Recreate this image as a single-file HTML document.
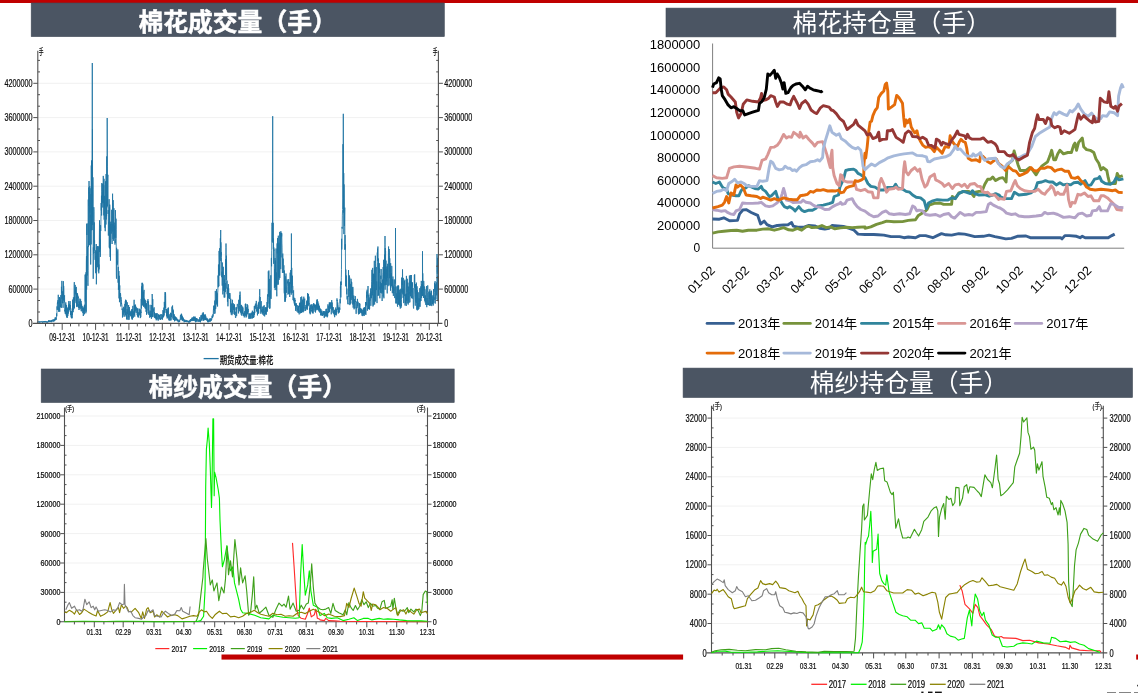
<!DOCTYPE html>
<html lang="zh-CN"><head><meta charset="utf-8"><title>棉花 棉纱 成交量 持仓量</title>
<style>html,body{margin:0;padding:0;background:#fff;overflow:hidden}svg{display:block}</style></head>
<body><svg width="1138" height="693" viewBox="0 0 1138 693">
<rect x="0" y="0" width="1138" height="693" fill="#fff"/>
<rect x="0" y="0" width="1138" height="3" fill="#c00000"/>
<rect x="221.5" y="654.5" width="461.6" height="5.1" fill="#c00000"/>
<rect x="1136.2" y="654.5" width="1.8" height="5.1" fill="#c00000"/>
<line x1="37.8" y1="289.1" x2="438.4" y2="289.1" stroke="#f1f1f1" stroke-width="1"/>
<line x1="37.8" y1="254.8" x2="438.4" y2="254.8" stroke="#f1f1f1" stroke-width="1"/>
<line x1="37.8" y1="220.5" x2="438.4" y2="220.5" stroke="#f1f1f1" stroke-width="1"/>
<line x1="37.8" y1="186.2" x2="438.4" y2="186.2" stroke="#f1f1f1" stroke-width="1"/>
<line x1="37.8" y1="151.9" x2="438.4" y2="151.9" stroke="#f1f1f1" stroke-width="1"/>
<line x1="37.8" y1="117.6" x2="438.4" y2="117.6" stroke="#f1f1f1" stroke-width="1"/>
<line x1="37.8" y1="83.3" x2="438.4" y2="83.3" stroke="#f1f1f1" stroke-width="1"/>
<polyline points="37.42,322.6 37.57,321.7 37.72,321.9 37.87,322.5 38.02,322.2 38.17,321.9 38.32,322.1 38.47,322 38.62,321.6 38.77,322.2 38.92,321.6 39.07,321.8 39.22,321.7 39.37,322.5 39.52,321.7 39.67,322 39.82,322.6 39.97,321.5 40.12,322 40.27,321.9 40.42,322.2 40.57,322.1 40.72,321.7 40.87,321.5 41.02,322.2 41.17,322.2 41.32,321.4 41.47,321.7 41.62,321.8 41.77,322 41.92,322 42.07,321.5 42.22,321.4 42.37,322.6 42.52,321.7 42.67,322.2 42.82,322.5 42.97,322.5 43.12,322.5 43.27,321.4 43.42,321.5 43.57,321.3 43.72,322.2 43.87,321.4 44.02,322 44.17,322.3 44.32,322.3 44.47,321.1 44.62,321.7 44.77,321.6 44.92,321.5 45.07,322.2 45.22,321.2 45.37,322.1 45.52,321.3 45.67,321.3 45.82,321.2 45.97,322.3 46.12,322.5 46.27,321.3 46.42,321.6 46.57,321.4 46.72,322 46.87,322.6 47.02,322.1 47.17,321.8 47.32,322.6 47.47,322.6 47.62,322.2 47.77,321.4 47.92,322.2 48.07,322 48.22,321.8 48.37,322.2 48.52,320.6 48.67,321.9 48.82,320.2 48.97,321.9 49.12,321.9 49.27,322 49.42,321.8 49.57,320.6 49.72,321.8 49.87,321.7 50.02,320.5 50.17,320.7 50.32,321.7 50.47,320.9 50.62,322.1 50.77,321.8 50.92,320.5 51.07,320.5 51.22,320.9 51.37,321.4 51.52,322.2 51.67,320 51.82,320.1 51.97,321.5 52.12,321.6 52.27,320.2 52.42,320 52.57,319.7 52.72,319.6 52.87,321.1 53.02,320.1 53.17,321.5 53.32,320.2 53.47,319.4 53.62,320.3 53.77,321.1 53.92,321.6 54.07,320.4 54.22,319.8 54.37,320.2 54.52,320.7 54.67,319.2 54.82,320.9 54.97,318.6 55.12,319.6 55.27,317.2 55.42,319.8 55.57,318.5 55.72,319.4 55.87,317.9 56.02,319.9 56.17,319.8 56.32,319.5 56.47,316.2 56.62,313.4 56.77,316.3 56.92,313.1 57.07,306.4 57.22,309.9 57.37,302.9 57.52,303.4 57.67,301.8 57.82,303.5 57.97,300.1 58.12,309.7 58.27,294.8 58.42,307 58.57,308 58.72,311.7 58.87,308.5 59.02,311.6 59.17,310.8 59.32,302.1 59.47,297 59.62,309.2 59.77,311.7 59.92,297.7 60.07,303.1 60.22,299.8 60.37,300 60.52,301.5 60.67,307.2 60.82,295.1 60.97,306.7 61.12,304.2 61.27,308 61.42,286.8 61.57,288.8 61.72,293.3 61.87,280.9 62.02,298.9 62.17,294.3 62.32,303.3 62.47,291.4 62.62,291.4 62.77,303 62.92,301.6 63.07,307.8 63.22,287.9 63.37,281.2 63.52,300.5 63.67,285.9 63.82,289.9 63.97,298.6 64.12,300.7 64.27,302.3 64.42,297.6 64.57,295.3 64.72,311.4 64.87,309.8 65.02,309.9 65.17,313.7 65.32,313.8 65.47,304.3 65.62,312.7 65.77,302.4 65.92,313.8 66.07,307.6 66.22,315.5 66.37,305.8 66.52,304.9 66.67,317.4 66.82,306.9 66.97,308.5 67.12,309.9 67.27,317.9 67.42,308.4 67.57,312.3 67.72,316.1 67.87,316 68.02,314 68.17,307.8 68.32,313.6 68.47,305 68.62,309 68.77,301.1 68.92,311.5 69.07,307.6 69.22,303.8 69.37,310 69.52,306.3 69.67,307.5 69.82,307.6 69.97,307.6 70.12,301.1 70.27,309.2 70.42,305.1 70.57,315.1 70.72,310.9 70.87,311.8 71.02,311.8 71.17,317.4 71.32,311.1 71.47,317.9 71.62,315.6 71.77,318.3 71.92,314.7 72.07,318.2 72.22,308.5 72.37,315 72.52,303 72.67,299.6 72.82,309.7 72.97,304.9 73.12,312.2 73.27,310.6 73.42,297.3 73.57,309.9 73.72,305.1 73.87,304.9 74.02,307.5 74.17,286 74.32,282.1 74.47,308.4 74.62,296.8 74.77,301.2 74.92,292.8 75.07,289.8 75.22,284.9 75.37,293.8 75.52,287.7 75.67,295.2 75.82,295.2 75.97,302.3 76.12,302.9 76.27,286.9 76.42,303.8 76.57,292.8 76.72,306.7 76.87,302.8 77.02,307.1 77.17,293.2 77.32,296.5 77.47,293.5 77.62,293.8 77.77,306.2 77.92,295.7 78.07,298.3 78.22,296.9 78.37,298.8 78.52,303.8 78.67,307.8 78.82,304.2 78.97,310 79.12,308.4 79.27,301.3 79.42,307.6 79.57,308 79.72,301.4 79.87,298.6 80.02,302.9 80.17,309.2 80.32,303.3 80.47,301.6 80.62,299.4 80.77,307.7 80.92,307.5 81.07,301 81.22,311.2 81.37,303.7 81.52,307.9 81.67,304.6 81.82,307.8 81.97,308.2 82.12,311.4 82.27,306.2 82.42,308.5 82.57,309.1 82.72,308 82.87,313.1 83.02,311.8 83.17,308.5 83.32,316 83.47,312.1 83.62,310.8 83.77,307.4 83.92,312.6 84.07,311.9 84.22,305.7 84.37,312.6 84.52,314.3 84.67,304.7 84.82,310.6 84.97,309.9 85.12,274.6 85.27,301.5 85.42,289.2 85.57,274.6 85.72,300.5 85.87,313.3 86.02,272.3 86.17,311.7 86.32,263.5 86.47,256.1 86.62,289.6 86.77,224 86.92,235 87.07,223.3 87.22,275.5 87.37,262.8 87.52,256.9 87.67,246.5 87.82,282.8 87.97,285.8 88.12,270.7 88.27,199.5 88.42,246.9 88.57,240.2 88.72,187.5 88.87,205.8 89.02,181 89.17,193.4 89.32,192.1 89.47,205.2 89.62,245.2 89.77,186.2 89.92,212.8 90.07,194.1 90.22,211.9 90.37,217.3 90.52,214.8 90.67,264.5 90.82,234.4 90.97,188.3 91.12,244.4 91.27,165.5 91.42,230.3 91.57,160.4 91.72,168.6 91.87,161.6 92.02,210.6 92.17,230.1 92.3,63 92.32,217.1 92.47,129.4 92.62,223.7 92.77,224.9 92.92,177.3 93.07,189.3 93.22,278.8 93.37,247.4 93.52,253.6 93.67,231.3 93.82,207.2 93.97,211.4 94.12,243.5 94.27,222.4 94.42,250.4 94.57,240.2 94.72,252.9 94.87,252.5 95.02,258.3 95.17,259.9 95.32,250.3 95.47,269.7 95.62,273.2 95.77,256.2 95.92,260.4 96.07,269.7 96.22,244 96.37,284.3 96.52,275.6 96.67,264.8 96.82,246.8 96.97,264.8 97.12,251.6 97.27,255.4 97.42,267.2 97.57,246.1 97.72,249.8 97.87,261.7 98.02,257.9 98.17,262.5 98.32,271.4 98.47,269.6 98.62,246.3 98.77,273.3 98.92,264.5 99.07,269.4 99.22,266 99.37,236.3 99.52,220.3 99.67,251.9 99.82,229.6 99.97,249.1 100.12,239.5 100.27,256.9 100.42,255.9 100.57,225.1 100.72,231 100.87,225.6 101.02,213.7 101.17,203 101.32,210.4 101.47,195.7 101.62,215.5 101.77,183.1 101.92,191.2 102.07,191.6 102.22,203.3 102.37,191.9 102.52,202.3 102.67,183.7 102.82,207.5 102.97,195.4 103.12,197.8 103.27,175.9 103.42,188.4 103.57,202.8 103.72,185.2 103.87,215.4 104.02,178.8 104.17,219.7 104.32,202.6 104.47,207.4 104.62,195.9 104.77,218.1 104.92,227.7 105.07,219.9 105.22,231.2 105.37,186 105.52,181.3 105.67,214.6 105.82,217.9 105.97,224.5 106.12,174 106.27,219.5 106.42,202 106.57,216.2 106.72,156.4 106.87,184.2 107.02,207.3 107.17,201 107.2,118 107.32,166.6 107.47,206 107.62,202.9 107.77,177.7 107.92,174.8 108.07,213.9 108.22,210 108.37,235.6 108.52,222.4 108.67,223.6 108.82,220 108.97,210.9 109.12,199.2 109.27,247.6 109.42,207 109.57,248.4 109.72,204.6 109.87,208.9 110.02,250 110.17,257 110.32,224.2 110.47,260.7 110.62,226.4 110.77,221.7 110.92,230.7 111.07,223.9 111.22,226.9 111.37,233.6 111.52,225.2 111.67,209.8 111.82,240.7 111.97,242.5 112.12,244 112.27,239.7 112.42,223.3 112.57,193.7 112.72,231.5 112.87,223.9 113.02,239.1 113.17,200.1 113.32,202.3 113.47,226.3 113.62,240.8 113.77,234 113.92,208.2 114.07,230.9 114.22,222.6 114.37,236.8 114.52,225.7 114.67,238.6 114.82,234.6 114.97,244.6 115.12,239.4 115.27,243 115.42,210.1 115.57,216.7 115.72,237.9 115.87,228.9 116.02,218.7 116.17,229.6 116.32,273.8 116.47,278.7 116.62,247.8 116.77,263 116.92,251.4 117.07,265.2 117.22,261.1 117.37,262.1 117.52,264.1 117.67,261.6 117.82,249.4 117.97,257.9 118.12,282.7 118.27,266.9 118.42,289.8 118.57,285.1 118.72,285.5 118.87,271 119.02,298.4 119.17,276.2 119.32,275.8 119.47,302.2 119.62,290.4 119.77,285.4 119.92,298.8 120.07,295.1 120.22,296.2 120.37,296.3 120.52,293.1 120.67,295.2 120.82,306.5 120.97,297.2 121.12,300.6 121.27,300.2 121.42,304 121.57,302.9 121.72,304.6 121.87,304.5 122.02,306.2 122.17,310 122.32,308.5 122.47,317.5 122.62,312.1 122.77,311 122.92,309.8 123.07,311.9 123.22,314.7 123.37,310.9 123.52,311.3 123.67,306.8 123.82,312.8 123.97,316.7 124.12,307.9 124.27,311.4 124.42,312.5 124.57,312.1 124.72,308 124.87,303.9 125.02,316.5 125.17,309.3 125.32,301.2 125.47,315.1 125.62,299.7 125.77,304.8 125.92,300 126.07,306.2 126.22,300.9 126.37,308.2 126.52,310 126.67,319.2 126.82,311.7 126.97,319.6 127.12,310.7 127.27,302.3 127.42,310.8 127.57,314.1 127.72,309.3 127.87,315.8 128.02,319.7 128.17,319.7 128.32,317.4 128.47,316.9 128.62,305 128.77,317.4 128.92,314.3 129.07,319.8 129.22,317.9 129.37,307 129.52,311.8 129.67,315 129.82,312.5 129.97,310.7 130.12,312.2 130.27,311.9 130.42,312.6 130.57,315.1 130.72,316 130.87,312 131.02,316.5 131.17,311.1 131.32,314.5 131.47,310.5 131.62,316.2 131.77,318.5 131.92,309 132.07,319.5 132.22,316.4 132.37,309.2 132.52,319.3 132.67,312.1 132.82,305.9 132.97,311.1 133.12,311.5 133.27,311.8 133.42,317.6 133.57,315 133.72,311.3 133.87,314.8 134.02,301.2 134.17,299.8 134.32,314.9 134.47,304.9 134.62,316.2 134.77,316.7 134.92,306.1 135.07,311.7 135.22,306.5 135.37,309.3 135.52,304.6 135.67,310.6 135.82,306.6 135.97,311.8 136.12,313 136.27,312.3 136.42,310.8 136.57,307.5 136.72,308.4 136.87,311.1 137.02,313.3 137.17,315.1 137.32,314.2 137.47,308.5 137.62,316.3 137.77,308.5 137.92,314.9 138.07,317.3 138.22,314.5 138.37,317.4 138.52,312.3 138.67,313 138.82,315 138.97,315.6 139.12,308.7 139.27,309 139.42,311.1 139.57,314.7 139.72,311.5 139.87,309.7 140.02,308.8 140.17,314.5 140.32,318.1 140.47,316.5 140.62,309.8 140.77,317.2 140.92,311.7 141.07,312.9 141.22,298.9 141.37,308.5 141.52,286.4 141.67,293.2 141.82,301.4 141.97,282.8 142.12,297.4 142.27,296.6 142.42,305.3 142.57,282.9 142.72,295.4 142.87,284.3 143.02,303 143.17,305.6 143.32,292.7 143.47,291.7 143.62,306.7 143.77,295.1 143.92,292.9 144.07,289.9 144.22,306.6 144.37,298.6 144.52,302.8 144.67,301.5 144.82,299.5 144.97,308.3 145.12,300 145.27,300.1 145.42,307.8 145.57,301.5 145.72,308.8 145.87,303.8 146.02,311.8 146.17,309.6 146.32,304.4 146.47,304.3 146.62,314.8 146.77,303 146.92,313.6 147.07,308.8 147.22,300.8 147.37,302.2 147.52,302.5 147.67,301.8 147.82,302.7 147.97,299.1 148.12,310.2 148.27,310.6 148.42,301.4 148.57,313.3 148.72,312 148.87,314.9 149.02,310.6 149.17,311.6 149.32,312.9 149.47,313.8 149.62,317.5 149.77,317.8 149.92,315.1 150.07,304.8 150.22,309.6 150.37,312.7 150.52,317 150.67,313.4 150.82,310.8 150.97,315.2 151.12,316.5 151.27,314.1 151.42,318.8 151.57,305 151.72,310.7 151.87,315.5 152.02,314.9 152.17,294 152.32,296.9 152.47,310.3 152.62,317 152.77,299.1 152.92,317.2 153.07,314.6 153.22,311 153.37,308.6 153.52,310.9 153.67,311.3 153.82,311.7 153.97,310.9 154.12,307.3 154.27,315.7 154.42,312 154.57,317.4 154.72,313 154.87,317.6 155.02,316.8 155.17,318.2 155.32,315.9 155.47,318.1 155.62,313.4 155.77,317.3 155.92,318.7 156.07,316.5 156.22,320.3 156.37,318.7 156.52,314.2 156.67,319.3 156.82,313.1 156.97,316.2 157.12,313.4 157.27,316.7 157.42,317.3 157.57,316.5 157.72,319.2 157.87,319.5 158.02,317.6 158.17,320.7 158.32,318.8 158.47,317.3 158.62,314.4 158.77,317.3 158.92,314.6 159.07,317.1 159.22,319.1 159.37,315.1 159.52,317.6 159.67,315.5 159.82,315.8 159.97,315.4 160.12,319.6 160.27,317.9 160.42,319.9 160.57,317.7 160.72,319.3 160.87,314.3 161.02,316.4 161.17,314.2 161.32,315.5 161.47,316.6 161.62,317.6 161.77,319 161.92,317.1 162.07,316.6 162.22,319.6 162.37,314.7 162.52,319.4 162.67,316.1 162.82,315.1 162.97,310.1 163.12,317.1 163.27,316.7 163.42,317.3 163.57,311.1 163.72,316.5 163.87,307.6 164.02,314 164.17,315.4 164.32,301.9 164.47,307.4 164.62,304 164.77,312.6 164.92,295.5 165.07,292.1 165.22,304.2 165.37,308.1 165.52,292.5 165.67,295.8 165.82,310.1 165.97,310.3 166.12,309.2 166.27,313.1 166.42,310.7 166.57,316.3 166.72,309 166.87,316.1 167.02,315.9 167.17,318.5 167.32,315.2 167.47,310.5 167.62,315.9 167.77,317.6 167.92,308.2 168.07,317.5 168.22,310.3 168.37,307.5 168.52,308.8 168.67,319.1 168.82,320.3 168.97,319.1 169.12,315.4 169.27,319.4 169.42,319.7 169.57,320.5 169.72,316.6 169.87,314.2 170.02,315.4 170.17,318.7 170.32,320.4 170.47,312.8 170.62,314.5 170.77,315.4 170.92,316 171.07,320.4 171.22,318.9 171.37,313.3 171.52,317 171.67,311.9 171.82,309.8 171.97,306.6 172.12,310 172.27,312.5 172.42,307.7 172.57,305.5 172.72,309.7 172.87,318.5 173.02,311.8 173.17,309.6 173.32,320 173.47,310.8 173.62,316.5 173.77,315.3 173.92,317.1 174.07,319.6 174.22,314.3 174.37,318.2 174.52,321.3 174.67,316.8 174.82,320.1 174.97,319.3 175.12,316.5 175.27,318.5 175.42,316.8 175.57,320.5 175.72,319.4 175.87,318.5 176.02,318.1 176.17,317.4 176.32,320.1 176.47,318.5 176.62,317.8 176.77,319.5 176.92,320.6 177.07,320.3 177.22,318.8 177.37,320.9 177.52,321.1 177.67,319.8 177.82,321.3 177.97,320.6 178.12,319.7 178.27,321.7 178.42,322.2 178.57,321.9 178.72,321.3 178.87,322.2 179.02,320.8 179.17,319.8 179.32,321.8 179.47,320.7 179.62,321.7 179.77,321 179.92,319.6 180.07,319.8 180.22,319.1 180.37,315.7 180.52,315.9 180.67,315.1 180.82,319.9 180.97,317.7 181.12,314.5 181.27,316.1 181.42,313.7 181.57,318.9 181.72,314.6 181.87,315.3 182.02,320.1 182.17,316.1 182.32,320.6 182.47,316.8 182.62,320.2 182.77,317.9 182.92,320.8 183.07,321.1 183.22,317.6 183.37,320.1 183.52,319.9 183.67,319 183.82,320.9 183.97,321.6 184.12,322.3 184.27,322.1 184.42,320.1 184.57,321.6 184.72,319.5 184.87,320.6 185.02,321.8 185.17,321.2 185.32,321.6 185.47,321.4 185.62,320.2 185.77,321.8 185.92,321 186.07,321.3 186.22,322 186.37,321.2 186.52,320.1 186.67,320 186.82,321 186.97,322.2 187.12,321 187.27,321 187.42,321.1 187.57,321.5 187.72,320.5 187.87,320.7 188.02,322.1 188.17,321.7 188.32,321.7 188.47,321.5 188.62,322.4 188.77,320.9 188.92,322.4 189.07,322.2 189.22,321.7 189.37,321.8 189.52,322.3 189.67,322.5 189.82,320.2 189.97,322 190.12,319.7 190.27,319.8 190.42,321.4 190.57,319.5 190.72,319 190.87,321 191.02,319.6 191.17,320.9 191.32,321.1 191.47,318.6 191.62,320.5 191.77,318.6 191.92,317.8 192.07,317.8 192.22,317.5 192.37,320.7 192.52,319.9 192.67,318.4 192.82,320.8 192.97,318 193.12,317.4 193.27,320.9 193.42,317.3 193.57,316.6 193.72,320 193.87,318.9 194.02,318.1 194.17,321 194.32,316.8 194.47,318.2 194.62,317.4 194.77,320.5 194.92,318.2 195.07,316.6 195.22,321.5 195.37,321.2 195.52,317.8 195.67,322.3 195.82,318.7 195.97,320.8 196.12,321.8 196.27,320.7 196.42,318.1 196.57,321.2 196.72,318.6 196.87,320.8 197.02,320.1 197.17,318.6 197.32,318.9 197.47,319.4 197.62,320.4 197.77,321.7 197.92,321.8 198.07,321.3 198.22,319.4 198.37,320.6 198.52,320.5 198.67,320.8 198.82,321.9 198.97,319.7 199.12,320.3 199.27,319.8 199.42,320.9 199.57,321.5 199.72,317.2 199.87,321.3 200.02,320.2 200.17,321.3 200.32,320.6 200.47,322.3 200.62,319.8 200.77,318.9 200.92,315.3 201.07,320.6 201.22,318.8 201.37,320.2 201.52,315.2 201.67,317.6 201.82,318.9 201.97,318 202.12,320.6 202.27,313.7 202.42,315 202.57,318.5 202.72,318.6 202.87,318.5 203.02,312.6 203.17,318.6 203.32,312.5 203.47,320.3 203.62,314.2 203.77,320.8 203.92,317.7 204.07,316.7 204.22,319.8 204.37,315 204.52,317.5 204.67,314.7 204.82,319.9 204.97,317.9 205.12,316.1 205.27,314.4 205.42,316.6 205.57,320 205.72,315.9 205.87,320 206.02,319.8 206.17,320.2 206.32,318.6 206.47,317.9 206.62,317.7 206.77,319.6 206.92,320.3 207.07,318.6 207.22,320.9 207.37,318.6 207.52,321.4 207.67,319.3 207.82,322.3 207.97,320.7 208.12,321.6 208.27,321.9 208.42,319.9 208.57,322.2 208.72,320.9 208.87,319.8 209.02,321.8 209.17,320.2 209.32,318.7 209.47,321.4 209.62,320.7 209.77,321.1 209.92,320.7 210.07,319.3 210.22,318.3 210.37,320.7 210.52,321.5 210.67,320.5 210.82,318.7 210.97,321 211.12,320.8 211.27,320.7 211.42,318.5 211.57,319.8 211.72,319.6 211.87,319.5 212.02,315.8 212.17,316 212.32,318 212.47,316.4 212.62,317.7 212.77,314.6 212.92,314.3 213.07,316.5 213.22,315.2 213.37,310.2 213.52,308.9 213.67,309.7 213.82,305.6 213.97,313.6 214.12,314 214.27,306 214.42,310.7 214.57,304.6 214.72,300.6 214.87,301.1 215.02,313.5 215.17,309.2 215.32,290.9 215.47,305.9 215.62,309.1 215.77,308.3 215.92,306.8 216.07,306.6 216.22,299 216.37,301.3 216.52,289.2 216.67,303.6 216.82,291.4 216.97,304.7 217.12,293.3 217.27,302.6 217.42,300.3 217.57,306.5 217.72,292.6 217.87,291.3 218.02,275.5 218.17,278.8 218.32,287.2 218.47,264.5 218.62,280.1 218.77,284.7 218.92,286.2 219.07,250.9 219.22,259.3 219.37,271.7 219.52,275.2 219.67,248.2 219.82,275.6 219.97,264.4 220.12,254.1 220.27,238.3 220.42,238.2 220.57,247.7 220.7,230 220.72,260.9 220.87,242.3 221.02,245.5 221.17,255.4 221.32,252.2 221.47,257.4 221.62,276 221.77,277.2 221.92,271.7 222.07,272.1 222.22,285.7 222.37,262.5 222.52,280.2 222.67,271.9 222.82,294.4 222.97,285.7 223.12,272.2 223.27,266.8 223.42,269 223.57,290.8 223.72,287.2 223.87,285.6 224.02,283.1 224.17,297.5 224.32,275 224.47,290.9 224.62,279.5 224.77,297.5 224.92,288.6 225.07,289.9 225.22,283 225.37,292.1 225.52,262.2 225.67,259.2 225.82,274.8 225.97,247.6 226,243.5 226.12,258.9 226.27,280 226.42,255.7 226.57,262.8 226.72,281.5 226.87,288.7 227.02,280.6 227.17,294.2 227.32,289.5 227.47,301.7 227.62,287.7 227.77,290.1 227.92,306.3 228.07,299.6 228.22,297.5 228.37,284.2 228.52,298.2 228.67,288.4 228.82,296.6 228.97,297.2 229.12,296.3 229.27,294.3 229.42,293.1 229.57,299 229.72,295.5 229.87,293 230.02,293.7 230.17,294.4 230.32,299.8 230.47,312.3 230.62,307.9 230.77,298.8 230.92,301.8 231.07,311 231.22,314.6 231.37,312.3 231.52,311.9 231.67,303.5 231.82,309.4 231.97,315.2 232.12,304.1 232.27,304.6 232.42,299.8 232.57,312.3 232.72,310.9 232.87,312.4 233.02,313.8 233.17,303.2 233.32,307.4 233.47,306.3 233.62,310.1 233.77,310.3 233.92,304.2 234.07,309.2 234.22,309.6 234.37,314.4 234.52,304.5 234.67,314.8 234.82,314.6 234.97,311.5 235.12,313.3 235.27,312.3 235.42,317.4 235.57,317.9 235.72,316.9 235.87,317.2 236.02,307.4 236.17,310.2 236.32,307.3 236.47,308.2 236.62,316.1 236.77,312.9 236.92,308.9 237.07,308.5 237.22,304.1 237.37,303.9 237.52,304.3 237.67,305 237.82,306.6 237.97,307.9 238.12,308.8 238.27,309 238.42,313.4 238.57,313.3 238.72,299.8 238.87,307 239.02,309.2 239.17,305.9 239.32,311.3 239.47,296.5 239.62,295.1 239.77,305.2 239.92,292.9 240.07,291.6 240.22,294.1 240.37,296.8 240.52,312.6 240.67,308.4 240.82,305.2 240.97,305.5 241.12,314.3 241.27,314.7 241.42,308.8 241.57,304.9 241.72,315.6 241.87,315.7 242.02,313.4 242.17,309.7 242.32,313.4 242.47,311.5 242.62,306.5 242.77,313.5 242.92,307.6 243.07,311.8 243.22,315.5 243.37,315.7 243.52,313.5 243.67,315.8 243.82,315.7 243.97,315.4 244.12,312.9 244.27,317.4 244.42,312.7 244.57,311.3 244.72,314.6 244.87,314.7 245.02,315.4 245.17,308.2 245.32,304 245.47,311.8 245.62,303.6 245.77,315.7 245.92,308.1 246.07,317.5 246.22,307.1 246.37,312.7 246.52,309.6 246.67,316.5 246.82,309.2 246.97,314.2 247.12,304 247.27,313.7 247.42,314.2 247.57,313.6 247.72,305.2 247.87,308 248.02,312.1 248.17,308.9 248.32,312.9 248.47,314.3 248.62,314.1 248.77,315 248.92,318.7 249.07,315.4 249.22,318.8 249.37,313.3 249.52,314.7 249.67,314.2 249.82,316.8 249.97,314.2 250.12,317.6 250.27,315.9 250.42,318.7 250.57,313.8 250.72,313.4 250.87,318.2 251.02,317.9 251.17,312.8 251.32,314.4 251.47,313.8 251.62,314.6 251.77,313.3 251.92,318.7 252.07,312.4 252.22,314 252.37,310.7 252.52,318.2 252.67,311.6 252.82,313.4 252.97,315.9 253.12,315.8 253.27,313.4 253.42,318 253.57,312 253.72,311.9 253.87,316.9 254.02,317.2 254.17,315.6 254.32,306.1 254.47,314.8 254.62,310.3 254.77,313.1 254.92,306 255.07,305.6 255.22,307.6 255.37,303.8 255.52,303.6 255.67,303.8 255.82,309.2 255.97,305.6 256.12,306 256.27,300.9 256.42,303 256.57,309.6 256.72,311.6 256.87,309.3 257.02,311 257.17,306.9 257.32,312.8 257.47,315.4 257.62,309.8 257.77,311.7 257.92,306.1 258.07,304.6 258.22,313.6 258.37,302.8 258.52,306.3 258.67,313.4 258.82,301.8 258.97,309 259.12,307.8 259.27,304 259.42,297.7 259.57,295.4 259.72,289.2 259.87,295.6 260.02,308.4 260.17,297 260.32,308.1 260.47,306.6 260.62,312.8 260.77,312.7 260.92,313.8 261.07,309.1 261.22,301.2 261.37,309.8 261.52,311.3 261.67,309.7 261.82,311.9 261.97,311.2 262.12,312.9 262.27,306.8 262.42,307.7 262.57,308.2 262.72,314.5 262.87,311.3 263.02,309.1 263.17,313.2 263.32,306.2 263.47,313.1 263.62,313.4 263.77,315.6 263.92,310.1 264.07,305.6 264.22,305.2 264.37,308 264.52,312.6 264.67,316.4 264.82,311.3 264.97,311.8 265.12,310.2 265.27,307.6 265.42,314.2 265.57,307.6 265.72,314.3 265.87,309.5 266.02,307.2 266.17,313.8 266.32,314.7 266.47,309.7 266.62,307.7 266.77,311.3 266.92,311.7 267.07,302 267.22,311.5 267.37,299.3 267.52,294.4 267.67,296.6 267.82,297.4 267.97,307.6 268.12,288.8 268.27,271.4 268.42,274.1 268.57,293.3 268.72,296.7 268.87,270.5 269.02,293.2 269.17,303.7 269.32,278.9 269.47,306.5 269.62,308.7 269.77,298.9 269.92,308.4 270.07,305.6 270.22,290.4 270.37,296.6 270.52,298.3 270.67,297.3 270.82,275.3 270.97,299 271.12,297.2 271.27,259.5 271.42,257.9 271.57,266.3 271.72,250.2 271.87,226.7 272.02,222.8 272.17,227.3 272.32,241.7 272.47,233 272.62,172.6 272.7,116.2 272.77,203.8 272.92,240.4 273.07,243 273.22,222.8 273.37,249.1 273.52,238.6 273.67,263.8 273.82,247.5 273.97,250.5 274.12,249.6 274.27,258.4 274.42,287.9 274.57,269.3 274.72,282.6 274.87,285.8 275.02,258 275.17,290.1 275.32,279.4 275.47,260.5 275.62,287 275.77,284.5 275.92,270.2 276.07,248.5 276.22,271.1 276.37,289.8 276.52,272.5 276.67,291.6 276.82,296.3 276.97,264.3 277.12,243.4 277.27,253.4 277.42,244.3 277.57,238.1 277.72,253.8 277.87,284.8 278.02,243.8 278.17,284.4 278.32,235.7 278.47,257.9 278.62,265.1 278.77,277 278.92,242.7 279.07,279.8 279.22,278.6 279.37,264.7 279.52,256.5 279.67,231.9 279.82,278 279.97,261.5 280.12,244.9 280.27,246 280.42,252.5 280.57,232.9 280.72,269.1 280.87,231.2 281.02,257.4 281.17,240.1 281.32,239.5 281.47,232.9 281.62,236.5 281.77,233.3 281.92,243.1 282.07,247.1 282.22,263.2 282.37,273 282.52,272.3 282.67,254.6 282.82,253.6 282.97,265.5 283.12,259.8 283.27,258.7 283.42,270.9 283.57,272.8 283.72,270.3 283.87,265.3 284.02,281 284.17,291.3 284.32,293.4 284.47,270.5 284.62,296.8 284.77,296.9 284.92,301.8 285.07,287.5 285.22,301.6 285.37,276.3 285.52,299.9 285.67,293.6 285.82,297.8 285.97,273.5 286.12,280 286.27,284 286.42,289.4 286.57,292.8 286.72,287.2 286.87,285.6 287.02,281.7 287.17,279.4 287.32,283.3 287.47,282.7 287.62,281.4 287.77,286.5 287.92,294.6 288.07,293.6 288.22,290.7 288.37,286.1 288.52,283.7 288.67,279.1 288.82,294 288.97,283.7 289.12,282.5 289.27,293.6 289.42,283.7 289.57,282.3 289.72,297 289.87,291.9 290.02,289.9 290.17,272.7 290.32,284.1 290.47,282.1 290.62,283.7 290.77,270 290.92,292.7 291.07,283.1 291.22,294.7 291.37,261.8 291.4,233.5 291.52,287.5 291.67,267.8 291.82,268.6 291.97,286.8 292.12,293.1 292.27,290.1 292.42,275.7 292.57,285.3 292.72,287.1 292.87,286.7 293.02,300.1 293.17,298.8 293.32,293.7 293.47,291.1 293.62,290.4 293.77,301.2 293.92,297.6 294.07,298 294.22,303.4 294.37,301 294.52,305.5 294.67,304 294.82,298.2 294.97,301.3 295.12,300 295.27,303.9 295.42,305.1 295.57,310.8 295.72,303.2 295.87,306.8 296.02,304.2 296.17,304.6 296.32,303.3 296.47,305.7 296.62,305.2 296.77,309.4 296.92,311.5 297.07,305 297.22,308.7 297.37,310 297.52,310.2 297.67,309.2 297.82,308.5 297.97,312.5 298.12,305.8 298.27,312.7 298.42,311.8 298.57,305.9 298.72,312.2 298.87,312.4 299.02,310.4 299.17,314.4 299.32,310.6 299.47,302.8 299.62,306.8 299.77,304.7 299.92,304.5 300.07,302.9 300.22,312.3 300.37,303.1 300.52,313.3 300.67,300.1 300.82,297.1 300.97,308.1 301.12,301.9 301.27,310.8 301.42,305.8 301.57,313 301.72,296.5 301.87,303.9 302.02,311.5 302.17,306.1 302.32,312.1 302.47,300.3 302.62,301.4 302.77,300.5 302.92,310.1 303.07,298.8 303.22,312.3 303.37,311.7 303.52,304.3 303.67,302 303.82,296.7 303.97,311.2 304.12,307.3 304.27,306.7 304.42,304.2 304.57,300.8 304.72,298.6 304.87,308.5 305.02,307.4 305.17,307.1 305.32,310.5 305.47,309.1 305.62,310.8 305.77,308.3 305.92,305 306.07,309.5 306.22,309.4 306.37,308.6 306.52,303.7 306.67,301.2 306.82,308.4 306.97,305.6 307.12,300.1 307.27,301 307.42,309.7 307.57,293.1 307.72,295.7 307.87,306.3 308.02,294 308.17,298.9 308.32,293.9 308.47,300.3 308.62,305.5 308.77,300.9 308.92,296.9 309.07,296.6 309.22,303.7 309.37,303.2 309.52,309.9 309.67,308.1 309.82,313.3 309.97,309.6 310.12,310 310.27,314.3 310.42,309.4 310.57,308.8 310.72,305.3 310.87,310.8 311.02,304.6 311.17,309 311.32,304.4 311.47,305.8 311.62,306.3 311.77,311.1 311.92,310.2 312.07,312.1 312.22,309.4 312.37,313.2 312.52,305.9 312.67,312.3 312.82,311.9 312.97,304.4 313.12,313.5 313.27,304.3 313.42,304.6 313.57,306 313.72,303 313.87,304.4 314.02,310.3 314.17,307.4 314.32,305.2 314.47,304.3 314.62,307.5 314.77,305.4 314.92,305.2 315.07,311.8 315.22,305.5 315.37,304.6 315.52,312.5 315.67,308.6 315.82,309.1 315.97,305.3 316.12,310.3 316.27,304.8 316.42,308.1 316.57,302.4 316.72,304.9 316.87,299.6 317.02,309.7 317.17,301.6 317.32,300.8 317.47,299.5 317.62,309.3 317.77,308.9 317.92,301.4 318.07,309.8 318.22,304 318.37,310.6 318.52,304.1 318.67,303.6 318.82,308.8 318.97,305.5 319.12,311.7 319.27,310.2 319.42,306.2 319.57,307.1 319.72,311.6 319.87,308.1 320.02,312.9 320.17,308.9 320.32,310.2 320.47,310 320.62,313.6 320.77,315.3 320.92,309.1 321.07,315.2 321.22,310.8 321.37,315.4 321.52,313.9 321.67,315 321.82,314.2 321.97,310.7 322.12,314.7 322.27,313.6 322.42,315.8 322.57,313.5 322.72,315.7 322.87,312.4 323.02,314.3 323.17,315.1 323.32,311.2 323.47,311.7 323.62,314.3 323.77,311.1 323.92,312.6 324.07,317.5 324.22,317.9 324.37,318 324.52,314.1 324.67,311.2 324.82,315 324.97,316.9 325.12,311.9 325.27,314.7 325.42,315.2 325.57,316.1 325.72,310.9 325.87,309.4 326.02,308.9 326.17,314.9 326.32,311 326.47,316.2 326.62,308.8 326.77,310.7 326.92,316.3 327.07,314.7 327.22,317.3 327.37,315.9 327.52,311.3 327.67,316.2 327.82,309 327.97,304.3 328.12,310.5 328.27,305.8 328.42,306.4 328.57,313.1 328.72,311.1 328.87,310.5 329.02,312.2 329.17,309.6 329.32,302.3 329.47,311.9 329.62,303.4 329.77,304.5 329.92,302.9 330.07,305.5 330.22,302.8 330.37,308.7 330.52,304.6 330.67,304.8 330.82,304.2 330.97,302.1 331.12,305.6 331.27,314.3 331.42,304.8 331.57,307.3 331.72,300.1 331.87,309.7 332.02,310 332.17,302.5 332.32,306.4 332.47,306.2 332.62,310.3 332.77,307 332.92,312.7 333.07,307.2 333.22,307.9 333.37,313.5 333.52,311.4 333.67,311.2 333.82,312.2 333.97,313.7 334.12,312.3 334.27,315.4 334.42,310 334.57,317.1 334.72,317.2 334.87,313.9 335.02,313.5 335.17,312.2 335.32,308.9 335.47,314.9 335.62,308.4 335.77,307.5 335.92,313 336.07,309.7 336.22,315.4 336.37,313.6 336.52,314.2 336.67,308.9 336.82,312.1 336.97,298.4 337.12,300.9 337.27,300 337.42,303.4 337.57,309.7 337.72,302.5 337.87,305 338.02,305 338.17,305.7 338.32,313.5 338.47,307.9 338.62,310.1 338.77,312.7 338.92,311.1 339.07,307.1 339.22,309.8 339.37,312.4 339.52,310.5 339.67,307.9 339.82,309.8 339.97,302.1 340.12,299.1 340.27,303.3 340.42,286.6 340.57,289.7 340.72,282.1 340.87,297.4 341.02,281.3 341.17,285 341.32,277.2 341.47,269.7 341.62,238.8 341.77,249.5 341.92,245.2 342.07,226.9 342.22,228.6 342.37,215.1 342.52,211 342.67,209.6 342.82,198.9 342.97,144.2 343.12,157 343.27,208.9 343.3,113.8 343.42,212.6 343.57,211.6 343.72,173.1 343.87,234.1 344.02,184.4 344.17,193.9 344.32,213.1 344.47,225.9 344.62,215 344.77,207.6 344.92,249.8 345.07,235.1 345.22,249.3 345.37,244.3 345.52,272.8 345.67,286.2 345.82,269.6 345.97,280.3 346.12,284.5 346.27,286.7 346.42,275.5 346.57,289.5 346.72,294.3 346.87,288.6 347.02,298.3 347.17,299.5 347.32,296.1 347.47,299.9 347.62,303.2 347.77,304 347.92,304.2 348.07,303.5 348.22,304.2 348.37,281 348.52,270.1 348.67,281.2 348.82,296.9 348.97,286 349.12,276.1 349.27,290.6 349.42,275.4 349.57,286.5 349.72,277.6 349.87,305.1 350.02,288.9 350.17,304.1 350.32,293.3 350.47,283.9 350.62,284.6 350.77,301.2 350.92,303.4 351.07,278.8 351.22,299.9 351.37,298.7 351.52,281.7 351.67,283.2 351.82,282.7 351.97,293.9 352.12,291.5 352.27,298.2 352.42,287.3 352.57,295.5 352.72,304.5 352.87,286.9 353.02,291 353.17,307.7 353.32,300.1 353.47,298.2 353.62,303.3 353.77,295.5 353.92,304 354.07,309.3 354.22,302.1 354.37,303.6 354.52,299.2 354.67,308.2 354.82,307.6 354.97,308.1 355.12,302.7 355.27,296.1 355.42,300.4 355.57,302 355.72,301.4 355.87,309.7 356.02,313.8 356.17,313.8 356.32,312.9 356.47,307.2 356.62,308.5 356.77,301.6 356.92,303.5 357.07,307.9 357.22,307.7 357.37,299 357.52,298.9 357.67,306.1 357.82,303.9 357.97,302.7 358.12,301.8 358.27,313.2 358.42,313.2 358.57,314.4 358.72,308.9 358.87,313.8 359.02,310.9 359.17,303 359.32,313.8 359.47,303.6 359.62,309.5 359.77,306.4 359.92,303.7 360.07,312.6 360.22,312.4 360.37,308 360.52,311.7 360.67,308.7 360.82,311.9 360.97,313.2 361.12,310.2 361.27,309.3 361.42,312.1 361.57,313.2 361.72,308.7 361.87,311.4 362.02,315.7 362.17,310.6 362.32,309.8 362.47,312 362.62,314.3 362.77,316.1 362.92,312.8 363.07,313.7 363.22,310.2 363.37,315.4 363.52,313.7 363.67,308.1 363.82,312 363.97,313.9 364.12,307.4 364.27,315.9 364.42,311.1 364.57,307.4 364.72,313.7 364.87,310.7 365.02,307.8 365.17,313.4 365.32,313.8 365.47,314.2 365.62,302 365.77,314.1 365.92,314.9 366.07,307.3 366.22,302.2 366.37,305.4 366.52,295 366.67,297.7 366.82,291.5 366.97,296.3 367.12,289.7 367.27,309.9 367.42,310.7 367.57,307.2 367.72,301.7 367.87,291.4 368.02,286 368.17,292.1 368.32,297.6 368.47,309 368.62,300.2 368.77,294.7 368.92,302 369.07,309.3 369.22,304.1 369.37,299.7 369.52,309.5 369.67,308.9 369.82,297.5 369.97,300.9 370.12,298 370.27,293.2 370.42,297.9 370.57,290 370.72,288.4 370.87,305.8 371.02,300.3 371.17,291.3 371.32,293.5 371.47,298.2 371.62,281.5 371.77,279.1 371.92,269.8 372.07,290.6 372.22,285.2 372.37,295.3 372.52,293.6 372.67,267.9 372.82,291.3 372.97,306.5 373.12,273.7 373.27,302.9 373.42,305.3 373.57,293.8 373.72,273.9 373.87,283.7 374.02,275.5 374.17,276.4 374.32,260.8 374.47,291.8 374.62,304.6 374.77,267.3 374.92,300.4 375.07,301.5 375.22,280.8 375.37,255.7 375.52,263.3 375.67,301.4 375.82,285.3 375.97,277.4 376.12,271.9 376.27,267.1 376.42,289.6 376.57,290.1 376.72,281.4 376.87,284.9 377.02,303.1 377.17,266 377.32,252.5 377.47,261.1 377.5,248.6 377.62,260.8 377.77,260.1 377.92,246.5 378.07,296 378.22,263 378.37,269.2 378.52,258.5 378.67,295.1 378.82,264.1 378.97,289.4 379.12,263 379.27,269.6 379.42,273 379.57,268.6 379.72,269.2 379.87,298.3 380.02,286.7 380.17,290.1 380.32,281.9 380.47,292.8 380.62,283.4 380.77,275.7 380.92,278.9 381.07,269.3 381.22,269 381.37,288.5 381.52,283.2 381.67,293.4 381.82,284.6 381.97,293.6 382.12,301 382.27,296.9 382.42,294.7 382.57,279.6 382.72,292.3 382.87,274.4 383.02,272.9 383.17,267 383.32,296.7 383.47,278.7 383.62,259.8 383.77,293.3 383.92,298.3 384.07,268.8 384.22,285.4 384.37,278.4 384.52,254.9 384.67,254.5 384.82,278.2 384.97,244.6 385,236 385.12,289.7 385.27,248.1 385.42,278.7 385.57,250.9 385.72,285.1 385.87,279.3 386.02,260.6 386.17,284.9 386.32,269.2 386.47,271.7 386.62,279.9 386.77,281.4 386.92,266.6 387.07,280.9 387.22,293.4 387.37,266.5 387.52,277.8 387.67,263.8 387.82,272.4 387.97,276 388.12,286.2 388.27,276.3 388.42,252.7 388.57,246.5 388.72,251.5 388.87,262.6 389.02,284.9 389.17,249 389.32,250.2 389.47,255.4 389.62,278.3 389.77,258.3 389.92,271.7 390.07,263.8 390.22,286.1 390.37,279.4 390.52,290.7 390.67,263.2 390.82,287.7 390.97,274.8 391.12,280.1 391.27,273.2 391.42,286.2 391.57,277 391.72,265.9 391.87,266.9 392.02,285.1 392.17,279 392.32,293.2 392.47,286.4 392.62,279.5 392.77,289 392.92,276.5 393.07,288.3 393.22,290.7 393.37,295.9 393.52,286.6 393.67,292.9 393.82,284.6 393.97,283.3 394.12,280.3 394.27,279.4 394.42,286.3 394.57,291.2 394.72,298.1 394.87,284.4 395.02,281.8 395.17,280.1 395.32,283.5 395.47,280.7 395.5,228 395.62,288 395.77,303.4 395.92,286.5 396.07,292.1 396.22,294.9 396.37,299.3 396.52,298.5 396.67,303.5 396.82,293.3 396.97,299 397.12,286.5 397.27,293.2 397.42,305.7 397.57,306.7 397.72,285.6 397.87,299.6 398.02,292.7 398.17,287.3 398.32,285.6 398.47,304.3 398.62,285.7 398.77,304.7 398.92,302.6 399.07,289.6 399.22,291.1 399.37,301 399.52,304.6 399.67,292.7 399.82,306.3 399.97,289.9 400.12,297.8 400.27,308.6 400.42,301.7 400.57,302.1 400.72,288.8 400.87,294.8 401.02,307.8 401.17,303.5 401.32,306.2 401.47,299.5 401.62,277.6 401.77,281.8 401.92,292.7 402.07,292.4 402.22,281.1 402.37,284.9 402.52,269.4 402.67,283.8 402.82,294.3 402.97,288.4 403.12,297.9 403.27,277.9 403.42,288.9 403.57,295.6 403.72,303.1 403.87,295.3 404.02,286.3 404.17,285.7 404.32,282.4 404.47,281 404.62,288.2 404.77,296.1 404.92,279.7 405.07,305.5 405.22,294.5 405.37,302.6 405.52,298.2 405.67,303.4 405.82,303 405.97,293.8 406.12,294.6 406.27,306 406.42,275.9 406.57,292.6 406.72,301 406.87,298.4 407.02,299.7 407.17,289 407.32,278.8 407.47,288.3 407.62,292.6 407.77,303.3 407.92,282.6 408.07,304.5 408.22,304.6 408.37,301.2 408.52,295.7 408.67,286.6 408.82,301.4 408.97,302.8 409.12,300.4 409.27,284 409.42,275.5 409.57,294.1 409.72,295 409.87,302.3 410.02,292.2 410.17,293.2 410.32,281.1 410.47,296.3 410.62,275.1 410.77,280 410.92,285.2 411.07,291.3 411.22,280 411.37,275 411.52,298.2 411.67,282.3 411.82,287.1 411.97,292.4 412.12,282.4 412.27,286.7 412.42,282.6 412.57,298.2 412.72,298.7 412.87,290.7 413.02,288 413.17,295.3 413.32,306.3 413.47,307.7 413.62,308.5 413.77,300.3 413.92,297.6 414.07,294.3 414.22,288.5 414.37,275 414.52,287.5 414.67,274.3 414.82,283.4 414.97,293.1 415.12,298.4 415.27,305.7 415.42,284.2 415.57,297 415.72,301.5 415.87,295.4 416.02,284 416.17,303 416.32,282.6 416.47,286.6 416.62,296.7 416.77,309.5 416.92,309.7 417.07,286.3 417.22,310.2 417.37,310.4 417.52,290.3 417.67,308.6 417.82,309 417.97,302.9 418.12,306.2 418.27,309.7 418.42,308.7 418.57,302.5 418.72,292.3 418.87,308.8 419.02,298.3 419.17,304.7 419.32,306.5 419.47,304.6 419.62,304.2 419.77,288.2 419.92,300.2 420.07,306.8 420.22,298.8 420.37,301.3 420.52,289.9 420.67,287.5 420.82,286.4 420.97,301 421.12,292 421.27,280.9 421.42,283.4 421.57,298 421.72,294.9 421.87,284.3 422.02,287.1 422.17,295.9 422.32,296 422.47,279.7 422.5,251.2 422.62,295.7 422.77,273.3 422.92,290.8 423.07,285.3 423.22,287.1 423.37,289.2 423.52,298 423.67,280.9 423.82,281.4 423.97,286.5 424.12,290 424.27,286.4 424.42,288.7 424.57,291.1 424.72,300.7 424.87,290.5 425.02,289.4 425.17,302.4 425.32,295.4 425.47,300.4 425.62,304.3 425.77,304.4 425.92,303.9 426.07,304.9 426.22,289.7 426.37,287 426.52,286.1 426.67,306.1 426.82,307.2 426.97,298 427.12,301.7 427.27,305 427.42,303.1 427.57,292.5 427.72,285.4 427.87,292.4 428.02,297.4 428.17,305 428.32,303.3 428.47,304.9 428.62,298.3 428.77,297.5 428.92,291.9 429.07,298.8 429.22,291.3 429.37,305.8 429.52,294.3 429.67,295 429.82,289.3 429.97,299 430.12,293.4 430.27,305.2 430.42,293.3 430.57,295.9 430.72,305.6 430.87,299.6 431.02,291.3 431.17,300 431.32,296.6 431.47,290.7 431.62,305.2 431.77,306.1 431.92,300.8 432.07,301.2 432.22,296.3 432.37,304.2 432.52,301.1 432.67,299.3 432.82,303.6 432.97,295.1 433.12,297.7 433.27,305.5 433.42,293.1 433.57,289.1 433.72,294.1 433.87,302.9 434.02,297.3 434.17,299.9 434.32,292.3 434.47,291 434.62,282.8 434.77,287.8 434.92,289.6 435.07,281.2 435.22,303.6 435.37,290.2 435.52,284.4 435.67,285.4 435.82,293.3 435.97,299.5 436.12,292 436.27,291.4 436.42,287.1 436.57,282.4 436.72,295.3 436.87,272.6 437,254 437.02,255.8 437.17,272.6 437.32,273.7 437.47,263.9 437.62,257.8 437.77,301.1 437.92,275.9 438.07,290.4 438.22,276.2 438.37,277" fill="none" stroke="#1f74a3" stroke-width="0.9" stroke-linejoin="round" stroke-linecap="butt" stroke-opacity="0.95"/>
<path d="M37.8 50.8V323.4M438.4 50.8V323.4M32.8 323.4H442.4" stroke="#505050" stroke-width="1.1" fill="none"/>
<path d="M37.8 312.0h2.2M438.4 312.0h-2.2M37.8 300.5h2.2M438.4 300.5h-2.2M33.3 289.1H37.8M438.4 289.1h4.5M37.8 277.7h2.2M438.4 277.7h-2.2M37.8 266.2h2.2M438.4 266.2h-2.2M33.3 254.8H37.8M438.4 254.8h4.5M37.8 243.4h2.2M438.4 243.4h-2.2M37.8 231.9h2.2M438.4 231.9h-2.2M33.3 220.5H37.8M438.4 220.5h4.5M37.8 209.1h2.2M438.4 209.1h-2.2M37.8 197.6h2.2M438.4 197.6h-2.2M33.3 186.2H37.8M438.4 186.2h4.5M37.8 174.8h2.2M438.4 174.8h-2.2M37.8 163.3h2.2M438.4 163.3h-2.2M33.3 151.9H37.8M438.4 151.9h4.5M37.8 140.5h2.2M438.4 140.5h-2.2M37.8 129.0h2.2M438.4 129.0h-2.2M33.3 117.6H37.8M438.4 117.6h4.5M37.8 106.2h2.2M438.4 106.2h-2.2M37.8 94.7h2.2M438.4 94.7h-2.2M33.3 83.3H37.8M438.4 83.3h4.5M37.8 71.9h2.2M438.4 71.9h-2.2M37.8 60.4h2.2M438.4 60.4h-2.2M45.5 323.4v3M53.9 323.4v3M62.2 323.4v6.5M70.5 323.4v3M78.9 323.4v3M87.2 323.4v3M95.6 323.4v6.5M103.9 323.4v3M112.3 323.4v3M120.6 323.4v3M128.9 323.4v6.5M137.3 323.4v3M145.6 323.4v3M154.0 323.4v3M162.3 323.4v6.5M170.7 323.4v3M179.0 323.4v3M187.3 323.4v3M195.7 323.4v6.5M204.0 323.4v3M212.4 323.4v3M220.7 323.4v3M229.1 323.4v6.5M237.4 323.4v3M245.7 323.4v3M254.1 323.4v3M262.4 323.4v6.5M270.8 323.4v3M279.1 323.4v3M287.4 323.4v3M295.8 323.4v6.5M304.1 323.4v3M312.5 323.4v3M320.8 323.4v3M329.2 323.4v6.5M337.5 323.4v3M345.8 323.4v3M354.2 323.4v3M362.5 323.4v6.5M370.9 323.4v3M379.2 323.4v3M387.6 323.4v3M395.9 323.4v6.5M404.2 323.4v3M412.6 323.4v3M420.9 323.4v3M429.3 323.4v6.5M437.6 323.4v3" stroke="#505050" stroke-width="1" fill="none"/>
<text x="32.6" y="326.9" font-size="10" text-anchor="end" fill="#0d0d0d" stroke="#0d0d0d" stroke-width="0.22" font-family="Liberation Sans, sans-serif" textLength="4.0" lengthAdjust="spacingAndGlyphs" >0</text>
<text x="444.2" y="326.9" font-size="10" text-anchor="start" fill="#0d0d0d" stroke="#0d0d0d" stroke-width="0.22" font-family="Liberation Sans, sans-serif" textLength="4.0" lengthAdjust="spacingAndGlyphs" >0</text>
<text x="32.6" y="292.6" font-size="10" text-anchor="end" fill="#0d0d0d" stroke="#0d0d0d" stroke-width="0.22" font-family="Liberation Sans, sans-serif" textLength="24.2" lengthAdjust="spacingAndGlyphs" >600000</text>
<text x="444.2" y="292.6" font-size="10" text-anchor="start" fill="#0d0d0d" stroke="#0d0d0d" stroke-width="0.22" font-family="Liberation Sans, sans-serif" textLength="24.2" lengthAdjust="spacingAndGlyphs" >600000</text>
<text x="32.6" y="258.3" font-size="10" text-anchor="end" fill="#0d0d0d" stroke="#0d0d0d" stroke-width="0.22" font-family="Liberation Sans, sans-serif" textLength="28.2" lengthAdjust="spacingAndGlyphs" >1200000</text>
<text x="444.2" y="258.3" font-size="10" text-anchor="start" fill="#0d0d0d" stroke="#0d0d0d" stroke-width="0.22" font-family="Liberation Sans, sans-serif" textLength="28.2" lengthAdjust="spacingAndGlyphs" >1200000</text>
<text x="32.6" y="224.0" font-size="10" text-anchor="end" fill="#0d0d0d" stroke="#0d0d0d" stroke-width="0.22" font-family="Liberation Sans, sans-serif" textLength="28.2" lengthAdjust="spacingAndGlyphs" >1800000</text>
<text x="444.2" y="224.0" font-size="10" text-anchor="start" fill="#0d0d0d" stroke="#0d0d0d" stroke-width="0.22" font-family="Liberation Sans, sans-serif" textLength="28.2" lengthAdjust="spacingAndGlyphs" >1800000</text>
<text x="32.6" y="189.7" font-size="10" text-anchor="end" fill="#0d0d0d" stroke="#0d0d0d" stroke-width="0.22" font-family="Liberation Sans, sans-serif" textLength="28.2" lengthAdjust="spacingAndGlyphs" >2400000</text>
<text x="444.2" y="189.7" font-size="10" text-anchor="start" fill="#0d0d0d" stroke="#0d0d0d" stroke-width="0.22" font-family="Liberation Sans, sans-serif" textLength="28.2" lengthAdjust="spacingAndGlyphs" >2400000</text>
<text x="32.6" y="155.4" font-size="10" text-anchor="end" fill="#0d0d0d" stroke="#0d0d0d" stroke-width="0.22" font-family="Liberation Sans, sans-serif" textLength="28.2" lengthAdjust="spacingAndGlyphs" >3000000</text>
<text x="444.2" y="155.4" font-size="10" text-anchor="start" fill="#0d0d0d" stroke="#0d0d0d" stroke-width="0.22" font-family="Liberation Sans, sans-serif" textLength="28.2" lengthAdjust="spacingAndGlyphs" >3000000</text>
<text x="32.6" y="121.1" font-size="10" text-anchor="end" fill="#0d0d0d" stroke="#0d0d0d" stroke-width="0.22" font-family="Liberation Sans, sans-serif" textLength="28.2" lengthAdjust="spacingAndGlyphs" >3600000</text>
<text x="444.2" y="121.1" font-size="10" text-anchor="start" fill="#0d0d0d" stroke="#0d0d0d" stroke-width="0.22" font-family="Liberation Sans, sans-serif" textLength="28.2" lengthAdjust="spacingAndGlyphs" >3600000</text>
<text x="32.6" y="86.8" font-size="10" text-anchor="end" fill="#0d0d0d" stroke="#0d0d0d" stroke-width="0.22" font-family="Liberation Sans, sans-serif" textLength="28.2" lengthAdjust="spacingAndGlyphs" >4200000</text>
<text x="444.2" y="86.8" font-size="10" text-anchor="start" fill="#0d0d0d" stroke="#0d0d0d" stroke-width="0.22" font-family="Liberation Sans, sans-serif" textLength="28.2" lengthAdjust="spacingAndGlyphs" >4200000</text>
<text x="62.2" y="341" font-size="10" text-anchor="middle" fill="#0d0d0d" stroke="#0d0d0d" stroke-width="0.22" font-family="Liberation Sans, sans-serif" textLength="26" lengthAdjust="spacingAndGlyphs" >09-12-31</text>
<text x="95.6" y="341" font-size="10" text-anchor="middle" fill="#0d0d0d" stroke="#0d0d0d" stroke-width="0.22" font-family="Liberation Sans, sans-serif" textLength="26" lengthAdjust="spacingAndGlyphs" >10-12-31</text>
<text x="128.9" y="341" font-size="10" text-anchor="middle" fill="#0d0d0d" stroke="#0d0d0d" stroke-width="0.22" font-family="Liberation Sans, sans-serif" textLength="26" lengthAdjust="spacingAndGlyphs" >11-12-31</text>
<text x="162.3" y="341" font-size="10" text-anchor="middle" fill="#0d0d0d" stroke="#0d0d0d" stroke-width="0.22" font-family="Liberation Sans, sans-serif" textLength="26" lengthAdjust="spacingAndGlyphs" >12-12-31</text>
<text x="195.7" y="341" font-size="10" text-anchor="middle" fill="#0d0d0d" stroke="#0d0d0d" stroke-width="0.22" font-family="Liberation Sans, sans-serif" textLength="26" lengthAdjust="spacingAndGlyphs" >13-12-31</text>
<text x="229.1" y="341" font-size="10" text-anchor="middle" fill="#0d0d0d" stroke="#0d0d0d" stroke-width="0.22" font-family="Liberation Sans, sans-serif" textLength="26" lengthAdjust="spacingAndGlyphs" >14-12-31</text>
<text x="262.4" y="341" font-size="10" text-anchor="middle" fill="#0d0d0d" stroke="#0d0d0d" stroke-width="0.22" font-family="Liberation Sans, sans-serif" textLength="26" lengthAdjust="spacingAndGlyphs" >15-12-31</text>
<text x="295.8" y="341" font-size="10" text-anchor="middle" fill="#0d0d0d" stroke="#0d0d0d" stroke-width="0.22" font-family="Liberation Sans, sans-serif" textLength="26" lengthAdjust="spacingAndGlyphs" >16-12-31</text>
<text x="329.2" y="341" font-size="10" text-anchor="middle" fill="#0d0d0d" stroke="#0d0d0d" stroke-width="0.22" font-family="Liberation Sans, sans-serif" textLength="26" lengthAdjust="spacingAndGlyphs" >17-12-31</text>
<text x="362.5" y="341" font-size="10" text-anchor="middle" fill="#0d0d0d" stroke="#0d0d0d" stroke-width="0.22" font-family="Liberation Sans, sans-serif" textLength="26" lengthAdjust="spacingAndGlyphs" >18-12-31</text>
<text x="395.9" y="341" font-size="10" text-anchor="middle" fill="#0d0d0d" stroke="#0d0d0d" stroke-width="0.22" font-family="Liberation Sans, sans-serif" textLength="26" lengthAdjust="spacingAndGlyphs" >19-12-31</text>
<text x="429.3" y="341" font-size="10" text-anchor="middle" fill="#0d0d0d" stroke="#0d0d0d" stroke-width="0.22" font-family="Liberation Sans, sans-serif" textLength="26" lengthAdjust="spacingAndGlyphs" >20-12-31</text>
<text x="38.8" y="54.8" font-size="9" text-anchor="start" fill="#0d0d0d" stroke="#0d0d0d" stroke-width="0.22" font-family="Liberation Sans, Noto Sans CJK SC, sans-serif" textLength="4.8" lengthAdjust="spacingAndGlyphs" >手</text>
<text x="432.8" y="54.8" font-size="9" text-anchor="start" fill="#0d0d0d" stroke="#0d0d0d" stroke-width="0.22" font-family="Liberation Sans, Noto Sans CJK SC, sans-serif" textLength="4.8" lengthAdjust="spacingAndGlyphs" >手</text>
<line x1="203.6" y1="358.6" x2="218.7" y2="358.6" stroke="#1f74a3" stroke-width="1.3"/>
<text x="219.7" y="363.8" font-size="9.8" text-anchor="start" fill="#0d0d0d" stroke="#0d0d0d" stroke-width="0.22" font-family="Liberation Sans, Noto Sans CJK SC, sans-serif" textLength="53.6" lengthAdjust="spacingAndGlyphs" font-weight="500">期货成交量:棉花</text>
<path d="M712.6 43.5V248.2H1124.2" stroke="#7f7f7f" stroke-width="1" fill="none"/>
<text x="700.2" y="252.4" font-size="12" text-anchor="end" fill="#000" font-family="Liberation Sans, sans-serif" >0</text>
<text x="700.2" y="229.8" font-size="12" text-anchor="end" fill="#000" font-family="Liberation Sans, sans-serif" textLength="43.2" lengthAdjust="spacingAndGlyphs" >200000</text>
<text x="700.2" y="207.2" font-size="12" text-anchor="end" fill="#000" font-family="Liberation Sans, sans-serif" textLength="43.2" lengthAdjust="spacingAndGlyphs" >400000</text>
<text x="700.2" y="184.7" font-size="12" text-anchor="end" fill="#000" font-family="Liberation Sans, sans-serif" textLength="43.2" lengthAdjust="spacingAndGlyphs" >600000</text>
<text x="700.2" y="162.1" font-size="12" text-anchor="end" fill="#000" font-family="Liberation Sans, sans-serif" textLength="43.2" lengthAdjust="spacingAndGlyphs" >800000</text>
<text x="700.2" y="139.5" font-size="12" text-anchor="end" fill="#000" font-family="Liberation Sans, sans-serif" textLength="50.4" lengthAdjust="spacingAndGlyphs" >1000000</text>
<text x="700.2" y="116.9" font-size="12" text-anchor="end" fill="#000" font-family="Liberation Sans, sans-serif" textLength="50.4" lengthAdjust="spacingAndGlyphs" >1200000</text>
<text x="700.2" y="94.3" font-size="12" text-anchor="end" fill="#000" font-family="Liberation Sans, sans-serif" textLength="50.4" lengthAdjust="spacingAndGlyphs" >1400000</text>
<text x="700.2" y="71.8" font-size="12" text-anchor="end" fill="#000" font-family="Liberation Sans, sans-serif" textLength="50.4" lengthAdjust="spacingAndGlyphs" >1600000</text>
<text x="700.2" y="49.2" font-size="12" text-anchor="end" fill="#000" font-family="Liberation Sans, sans-serif" textLength="50.4" lengthAdjust="spacingAndGlyphs" >1800000</text>
<polyline points="712.5,219 719.4,219.2 723.8,217.8 729.5,220.7 737.5,220.4 739.6,213.9 742.8,210 746.1,209.6 751.2,212.5 757.7,215.4 760.6,224 764.2,221.1 767,224.7 772.1,226.9 777.2,225.5 783.6,225 788,224.7 791.6,222.6 793.3,226.2 798.8,227.3 804.6,226.9 808.9,225.5 814.7,225.9 819.7,228.3 824.8,229.1 829.1,228.3 832,225.5 837.8,225.9 843.5,226.5 849.3,228.3 853.6,229.8 858,234.1 865,234.5 873.7,234.5 878,234.8 883.8,235.1 891,236.6 899.6,236.6 904,237.7 908.3,237 915.5,237.7 919.8,235.6 925.6,235.6 932.8,237.7 937.2,235.6 941.5,233.7 945.8,234.8 951.6,235.1 958.8,233.7 964.6,234.1 968.9,235.1 974.7,236.6 983.3,236.3 989.1,235.1 994.9,236.6 1000,237.7 1005.8,238.9 1011.5,238.4 1017.3,236.3 1026,236 1030.3,237.7 1043.3,237.7 1060.6,237.7 1062,238.9 1064.9,235.6 1069.3,235.6 1076.5,236.3 1080.1,237.7 1082.3,236.3 1085.1,237.7 1098.1,237.7 1108.2,237.7 1111.8,235.6 1114.7,234.1" fill="none" stroke="#376092" stroke-width="2.9" stroke-linejoin="round" stroke-linecap="butt" />
<polyline points="712.5,233.1 718,231.9 723.8,231.2 731,230.5 736.7,230.2 742.5,231.2 748.3,230.2 756.9,230.2 762.7,229.1 768.5,228.8 774.3,230.2 778.6,229.1 783.6,227.6 788.7,229.8 793,230.2 797.4,228.3 801.7,230.2 806,226.9 808.9,226.2 811.8,227.6 816.8,227.3 821.9,225.5 826.2,227.6 830.5,226.9 834.9,228.8 840.6,227.9 846.4,227.3 852.2,227.6 858,227.3 865,226.9 865,228.3 870.8,226.9 876.5,224.4 882.3,222.6 886.6,221.1 893.9,221.8 902.5,221.6 908.3,220.4 915.5,219.7 918.4,215.4 922,213.2 925.6,211 927,209.5 929.2,205.1 934.3,203.4 940,203 943.6,204.4 951.6,204.4 952.3,196.5 955.2,198.6 958.8,192.9 964.6,191.4 968.9,191.4 971.8,193.6 973.9,196.5 975.4,192.2 979,191.4 981.9,191.4 984.8,184.2 987.7,179.2 990.5,179.2 992.7,177 995.6,180.6 999.2,178.4 1002.8,177.7 1004.3,179.2 1006.1,182 1006.9,167.6 1008.7,163.3 1012.3,160.4 1014.1,151 1015.9,157.5 1018,164.7 1020.2,170.5 1026,170.5 1029.6,167.6 1032.5,169.8 1036.1,174.8 1039,169.8 1041.8,166.2 1047.6,161.8 1049.8,156.1 1051.7,150.3 1053.7,159.7 1055.6,159.7 1057.7,153.9 1059.9,150.3 1063.5,153.9 1067.8,152.5 1071.4,152.5 1073.6,145.3 1075,143.1 1076.5,150.3 1078.6,142.4 1082.3,138 1083.7,146.7 1086.6,149.6 1090.2,150.3 1093.8,152.5 1096,159 1098.8,163.3 1101,169.8 1103.2,167.6 1106.8,170.5 1108.2,177.7 1109.7,183.5 1115.4,183.5 1117.2,173.4 1119,177 1122.7,175.6" fill="none" stroke="#77933c" stroke-width="2.9" stroke-linejoin="round" stroke-linecap="butt" />
<polyline points="712.5,182 715.8,183.5 719.4,182 721.6,185.7 723,187.8 726.6,189.3 728.1,193.6 731.7,195 736,195.8 738.9,195.8 741.1,190.7 743.2,188.5 746.1,187.8 748.3,185.7 751.9,187.1 754.8,188.5 758.4,189 761.3,186.4 762.7,189.3 765.6,191.4 769.2,196.5 771.4,195.8 775.7,191.4 777.9,198.6 780,199.4 782.2,203.7 784.4,206.6 787.3,208 789.4,206.6 793,208.7 795.2,210.9 798.8,206.6 801.7,210.2 804.6,211.6 808.9,210.2 812.5,210.2 816.1,208.3 817.6,205.9 823.3,205.1 829.1,203.7 832.7,202.3 834.1,196.5 838.5,195 839.9,187.1 843.5,179.2 845.7,170.5 847.9,169.8 853.6,169.1 855.8,170.5 858,173.4 860.8,174.8 865,177.7 867.9,183.5 870.8,186.4 875.1,187.1 879.4,190 883.8,190 887.4,187.5 893.9,187.1 895.6,184.2 897.5,187.8 902.5,189 906.1,191.4 909.7,192.2 912.6,195 916.2,197.2 920.6,197.9 924.2,200.8 926.3,208.7 928.5,203 932.8,200.8 937.2,199.7 942.9,200.1 948,200.1 951.6,197.9 955.2,198.6 958.8,193.6 963.1,191.4 966,192.2 970.3,193.6 972.5,190.7 974.7,193.6 979,195 984.8,194.7 989.1,196.2 992.7,195 995.6,193.6 999.2,195 1000,196.5 1004.3,198.6 1011.5,198.6 1014.4,192.2 1018.8,195 1026,194.3 1031,192.9 1035.4,189.3 1037.5,182.8 1041.8,182 1045.5,180.6 1049.1,182 1052.7,182 1056.3,184.9 1059.9,182.8 1063.5,184.9 1067.1,184.2 1070.7,184.9 1073.6,182.8 1077.9,182.3 1080.8,184.2 1085.1,180.6 1088,185.7 1090.9,184.9 1094.5,179.2 1098.1,178.4 1099.6,176.6 1101.7,181.3 1105.3,183.5 1110.4,184.2 1114,182 1116.2,177.7 1119,179.9 1123.4,178.9" fill="none" stroke="#31859c" stroke-width="2.9" stroke-linejoin="round" stroke-linecap="butt" />
<polyline points="712.5,175.6 716.5,177.7 722.3,178.4 726.6,177.7 729.5,168.3 733.9,166.9 739.6,166.2 748.3,167.3 755.5,168.3 759.5,169.1 762,160.4 765.6,159 767.8,154.6 770.7,147.4 774.3,147.1 777.2,145.3 780,141.6 783.6,134.4 786.5,138 788.7,136.6 791.6,137.3 793.7,132.3 796.6,134.4 799.5,137.3 800.2,132.3 803.1,138 806,135.9 808.9,139.5 812.5,143.1 814.7,146 817.6,142.4 822.6,141.6 824.8,148.1 826.9,154.6 829.1,163.3 830.3,167.6 831,156.1 832,150.3 832.7,167.6 834.1,175.6 837,183.5 839.2,185.7 840.6,174.8 842.1,175.6 843.5,180.6 847.1,182 852.2,182 855.1,183.5 856.5,189.3 860.8,190.7 865,189.3 867.9,191.7 872.2,192.2 873.7,197.9 878,197.9 879.4,183.5 881.2,178.4 883.8,184.2 886.6,192.2 888.8,189.3 893.9,188.5 896,187.1 898.2,189.3 902.5,188.5 903.7,169.1 904.7,161.8 906.1,171.9 908.3,174.8 911.2,170.5 914.8,167.6 917.7,171.2 919.8,169.1 922,179.2 924.9,187.1 927,184.9 929.9,177 934.3,174.1 935.7,179.9 938.6,181.3 942.2,183.5 944.4,186.4 948.7,183.5 952.3,188.5 955.2,184.9 958.8,184.2 961.7,186.4 964.6,184.2 967.5,187.8 970.3,184.2 974.7,183.5 977.6,186.4 980.4,186.4 982.6,191.4 985.5,192.9 987.7,192.2 990.5,195 994.9,195 998.5,199.4 1000,198.6 1004.3,199.4 1006.5,191.4 1010.8,190.7 1013.7,183.5 1015.2,180.6 1017.3,185.7 1020.2,188.5 1024.5,190.7 1028.9,191.4 1034.6,191.4 1038.2,189.3 1041.8,192.9 1044.7,194.3 1046.9,191.4 1049.8,188.5 1051.2,185.7 1053.4,188.5 1055.6,195 1057.7,192.2 1059.9,194.3 1063.5,194.3 1065.7,189.3 1067.1,184.9 1068.5,199.4 1070.4,206.6 1072.2,202.3 1075,203 1077.9,194.3 1080.8,195 1084.4,192.9 1088,196.5 1090.9,195.8 1093.8,200.8 1098.8,200.8 1101,195.8 1103.9,195.8 1107.5,197.9 1110.4,200.8 1114,204.4 1116.9,209.5 1122.7,210.2" fill="none" stroke="#d99694" stroke-width="2.9" stroke-linejoin="round" stroke-linecap="butt" />
<polyline points="712.5,209.5 716.5,210.2 720.9,211.2 725.2,210.6 727.4,212.4 730.3,213.8 733.9,214.5 736,210.9 739.6,209.5 742.5,203 746.8,203.4 752.6,203.4 758.4,203 761.3,202.3 765.6,205.9 769.2,206.6 772.8,205.9 776.4,203.4 780,200.1 782.2,193.6 783.6,188.5 785.1,193.6 786.5,200.1 790.1,200.8 793,202.5 797.4,202.3 801,202.3 803.1,200.1 806,202.3 810.3,203 813.2,205.1 816.1,206.6 820.4,207.3 824.8,209.5 829.1,209.2 832.7,206.6 835.6,205.1 839.2,203.7 840.6,202.3 842.1,204.4 845,203.7 847.1,200.1 852.2,198.6 854.4,203 857.2,206.6 860.8,209.5 865,211.2 869.3,214.5 873.7,216.7 878,216 882.3,212.4 885.9,210.9 889.5,213.8 893.9,214.5 899.6,213.8 905.4,214.5 909.7,213.8 912.6,205.9 914.8,207.3 916.9,210.9 919.1,210.2 922.7,210.9 925.6,214.5 929.9,215.2 935.7,214.5 940,216.4 943.6,214.5 948.7,213.5 951.6,216.7 954.5,218.1 957.4,215.2 960.2,212.4 964.6,215.2 968.9,214.5 972.5,215.2 976.1,212.4 980.4,212.4 986.2,211.6 988.4,204.4 990.5,203 993.4,205.1 997.8,207.3 1000,208 1003.6,210.2 1006.5,213.1 1011.5,214.5 1015.2,213.8 1018.8,216 1024.5,216.7 1028.9,216.7 1036.1,216 1041.8,215.2 1044.7,212.4 1047.6,213.8 1053.4,213.1 1057.7,214.5 1063.5,217.4 1069.3,216.7 1075,217.8 1078.6,213.8 1082.3,213.1 1086.6,216 1090.9,215.2 1092.4,210.9 1096.7,210.2 1099.3,206.6 1101,210.9 1107.5,210.9 1110.8,203.7 1114,204.4 1118.3,207.3 1123.4,207.6" fill="none" stroke="#b3a2c7" stroke-width="2.9" stroke-linejoin="round" stroke-linecap="butt" />
<polyline points="712.5,208 718,206.6 722.3,205.1 724.5,202.3 726.6,196.5 728.8,203 731,192.9 733.9,195 736,184.9 737.5,187.1 740.4,184.9 743.2,187.8 746.1,195 751.2,195.8 756.9,196.5 760.6,198.6 762.7,197.2 767,198.6 770.7,200.1 774.3,198.6 778.6,200.1 783.6,197.9 788.7,199.1 793,199.7 797.4,199.7 800.2,195.8 804.6,195 807.5,194.3 810.3,191.4 813.2,192.2 816.8,190 820.4,190.4 823.3,189.7 827.7,191 832,190.7 835.6,191 838.5,190 840.6,192.9 843.5,192.2 846.4,187.8 849.3,186.7 853.6,185.7 855.1,180.6 858,181.3 861.6,179.9 863.7,178.4 864,163.3 865,153.2 865.7,158.1 867.2,146.6 868.6,132.2 870.1,122 871.5,121.3 872.9,115.6 875.1,110.5 877.3,107.6 878.7,97.5 880.9,93.9 883.8,91 885.2,84.5 886.6,83.1 887.8,91 888.4,109.1 891.7,106.9 894.6,104.7 896.7,95.4 898.9,97.5 902.5,103.3 903.7,117.7 904.7,126.4 906.1,119.9 907.6,122.8 909.7,119.2 911.2,127.1 913.3,130.7 914.8,132.9 916.9,130.7 918.4,137.2 920.6,141.5 922.7,145.1 925.6,147.3 928.5,146.6 931.4,148 934.3,151.6 936.4,147.3 938.6,149.5 942.2,153.1 945.1,146.6 948.7,147.3 949.4,142.3 950.1,135.8 952.3,141.5 954.5,144.4 957.4,146.6 959.5,141.5 961,139.4 963.1,141.5 965.3,142.3 966.7,148 968.2,158.2 971.8,160.4 976.1,159.7 979.7,161.8 980.4,156.1 982.6,156.1 984.8,158.2 987.7,161.8 990.5,163.3 993.4,161.1 996.3,159 998.5,163.3 1002.1,166.2 1005.7,170.5 1008.7,166.9 1013,170.5 1015.9,171.2 1019.5,175.6 1023.1,174.1 1027.4,171.9 1031,167.6 1033.9,170.5 1036.8,171.2 1040.4,168.3 1044.7,168.3 1047.6,166.9 1051.2,167.6 1054.8,171.2 1057.7,169.8 1061.3,169.1 1064.9,171.2 1068.5,171.2 1071.4,177.7 1075,178.4 1077.9,177 1080.8,180.6 1083.7,182.8 1086.6,187.1 1090.2,189.3 1095.2,190 1101,189.3 1108.2,190 1112.6,190.7 1115.4,190 1118.3,192.2 1122.7,192.6" fill="none" stroke="#e46c0a" stroke-width="2.9" stroke-linejoin="round" stroke-linecap="butt" />
<polyline points="712.5,193.6 716.5,191.4 720.9,190.7 723.8,189.3 726.6,190.7 728.8,183.5 732.4,181.3 734.6,179.2 737.5,182.8 741.1,182 744,183.5 746.8,185.7 751.2,186.4 756.9,186.4 759.5,180.6 762.7,181.3 767,180.6 769.2,167.6 770.7,161.1 772.8,162.6 775.7,168.3 779.3,169.8 782.9,169.1 785.1,166.2 788,168.3 790.1,168.3 792.3,170.5 794.5,169.8 796.6,171.2 799.5,167.6 802.4,165.5 806,164.7 810.3,161.8 814.7,161.1 817.6,159.7 819.7,161.1 822.6,157.5 823.3,148.9 825.5,140.2 827.7,133 829.8,125.8 832,132.3 836.3,135.2 839.2,133.7 841.4,138.8 845,140.9 848.6,144.5 852.2,147.4 855.8,148.9 858,147.4 860.8,150.3 862.3,160.4 863,166.2 865,169.8 867.9,166.9 871.5,164 875.1,165.9 879.4,162.6 883.8,160.4 888.1,157.8 893.9,155.8 899.6,154.6 904,153.9 912.6,152.9 916.9,155.4 922.7,155.8 926.3,156.8 927.8,161.6 929.9,161.8 934.3,159 940,157.8 945.8,156.8 950.1,154.6 953.7,149.6 955.2,146 957.4,149.6 960.2,148.9 964.6,153.9 967.5,156.1 971.8,156.1 973.2,153.9 975.4,156.1 979,153.9 980.4,152.5 982.6,157.8 984.8,160.4 989.1,158.7 995.6,158.2 997.8,162.6 1000.6,166.2 1004.2,168.3 1007.1,164 1010.7,161.8 1013.6,157.8 1016.5,158.7 1020.8,156.8 1025,154.6 1027.4,153.8 1031.7,146.6 1035.4,136.5 1039,133.6 1044.7,130 1049.8,127.1 1051.9,117.7 1054.1,112.7 1056.3,114.8 1059.2,111.9 1063.5,114.1 1067.1,115.6 1070,110.5 1072.2,111.9 1075.8,108.3 1078.2,104 1080.8,109.1 1084.4,114.1 1088,116.3 1091.6,113.1 1094.5,117 1098.1,119.9 1101,118.4 1102.5,115.6 1106.8,116.3 1109.7,111.9 1114,112.7 1117.6,115.6 1118.6,96.1 1120.5,88.1 1121.9,84.5 1123.4,88.1" fill="none" stroke="#a6b9da" stroke-width="2.9" stroke-linejoin="round" stroke-linecap="butt" />
<polyline points="712.5,92.7 715.8,92.7 718.7,89.8 720.9,87.6 723.8,86.9 726.6,89.8 728.1,94.1 731,97 735.3,102 736.7,112.2 738.5,117.9 741.1,113.6 743.2,104.2 746.8,99.9 752.6,101.3 758.4,102 760.6,97.7 761.6,93.4 762.7,100.6 765.6,99.9 768.5,98.4 770.7,95.6 774.3,97 775.7,102 777.4,106.4 780,102 783.6,102 787.3,104.2 790.1,104.9 791.6,100.6 793.7,96.3 797.4,103.5 799.5,108.5 801.7,103.5 805.3,100.6 808.2,104.2 811.1,110 813.9,112.2 816.8,113.6 820.4,107.8 823.3,105.7 829.1,107.1 831.3,110 833.4,110.7 836.3,113.6 839.9,118.6 843.5,121.5 847.1,129.5 850.7,126.6 853.6,124.4 855.8,120.1 858,125.1 862.3,128.7 865,130.9 867.2,135 870.1,133.6 872.9,138.6 876.5,137.2 878.7,132.2 879.7,140.8 882.3,139.4 886.6,139.1 887.4,130.7 890.3,130.7 892.4,129.6 896,137.2 900.4,140.1 903.2,142.3 905.4,133.6 908.3,131 910.5,132.2 912.6,136.5 916.9,136.8 919.8,138.6 922.7,137.2 926.3,139.4 928.5,145.1 931.4,145.4 935,148 936.4,139.1 939.3,140.8 941.5,145.1 942.9,142.3 945.8,143.7 949.4,144.8 951.6,140.1 954.5,136.5 957.4,131 958.8,134.3 964.6,135.8 966,138.6 967.5,134.3 969.6,137.9 971.8,139.1 980.4,139.1 983.3,137.9 987.7,142.3 991.3,141.5 994.9,143.7 997,146.6 998.5,151.6 1004.2,151.6 1004.3,151.6 1007.2,155.2 1010.1,156 1013,154.5 1015.9,158.1 1018.8,160 1023.1,157.4 1027.4,155.2 1029.6,142.3 1032.5,132.2 1034.6,128.5 1036.1,120.6 1037.5,114.8 1039,119.5 1043.3,119.5 1045.5,123.5 1047.6,117.7 1050.5,119.5 1051.9,125.7 1054.8,127.8 1057.7,126.4 1059.9,127.1 1061.3,133.6 1064.2,130.7 1069.3,133.3 1072.2,131.4 1075,129.3 1077.2,119.2 1078.6,114.1 1080.8,119.2 1083.7,115.6 1086.6,118.4 1090.2,121.3 1092.4,122.8 1093.8,116.3 1095.2,122 1098.8,121.3 1099.6,107.6 1100.3,98.2 1103.9,101.8 1107.5,102.6 1108.9,91.7 1110.8,106.2 1114,108.3 1115.4,106.2 1117.6,111.2 1119,106.2 1121.9,103.6" fill="none" stroke="#953735" stroke-width="2.9" stroke-linejoin="round" stroke-linecap="butt" />
<polyline points="712.5,87.6 713.7,84 716.5,82.6 718.7,77.8 720.2,79 721.2,89.1 722.3,95.6 725.2,99.9 728.1,104.9 731,107.8 733.9,106.7 736.7,108.5 739.6,110.7 742.8,110.7 744.7,115 748.3,113.6 752.6,112.2 758.4,110.4 759.5,103.5 762,101.3 764.2,97.7 766.3,89.1 767.8,73.9 769.9,75.4 772.1,72.9 774.3,70.3 775.7,78.2 777.2,73.9 779.3,77.5 781.5,83.3 782.9,89.1 784.1,82.6 785.8,93.4 788,92.7 790.9,87.6 793,85.5 795.9,84 799.5,83.3 802.4,86.2 805.3,89.8 807.5,86.2 810.3,88.3 813.2,89.8 816.1,90.5 819,91.2 821.2,91.9 822.6,90.8" fill="none" stroke="#000000" stroke-width="2.9" stroke-linejoin="round" stroke-linecap="butt" />
<text transform="translate(715.8,271.3) rotate(-45)" font-size="12.5" text-anchor="end" fill="#000" font-family="Liberation Sans, sans-serif" textLength="32.5" lengthAdjust="spacingAndGlyphs">01-02</text>
<text transform="translate(750.0,271.3) rotate(-45)" font-size="12.5" text-anchor="end" fill="#000" font-family="Liberation Sans, sans-serif" textLength="32.5" lengthAdjust="spacingAndGlyphs">02-02</text>
<text transform="translate(784.2,271.3) rotate(-45)" font-size="12.5" text-anchor="end" fill="#000" font-family="Liberation Sans, sans-serif" textLength="32.5" lengthAdjust="spacingAndGlyphs">03-02</text>
<text transform="translate(818.5,271.3) rotate(-45)" font-size="12.5" text-anchor="end" fill="#000" font-family="Liberation Sans, sans-serif" textLength="32.5" lengthAdjust="spacingAndGlyphs">04-02</text>
<text transform="translate(852.7,271.3) rotate(-45)" font-size="12.5" text-anchor="end" fill="#000" font-family="Liberation Sans, sans-serif" textLength="32.5" lengthAdjust="spacingAndGlyphs">05-02</text>
<text transform="translate(886.9,271.3) rotate(-45)" font-size="12.5" text-anchor="end" fill="#000" font-family="Liberation Sans, sans-serif" textLength="32.5" lengthAdjust="spacingAndGlyphs">06-02</text>
<text transform="translate(921.1,271.3) rotate(-45)" font-size="12.5" text-anchor="end" fill="#000" font-family="Liberation Sans, sans-serif" textLength="32.5" lengthAdjust="spacingAndGlyphs">07-02</text>
<text transform="translate(955.3,271.3) rotate(-45)" font-size="12.5" text-anchor="end" fill="#000" font-family="Liberation Sans, sans-serif" textLength="32.5" lengthAdjust="spacingAndGlyphs">08-02</text>
<text transform="translate(989.6,271.3) rotate(-45)" font-size="12.5" text-anchor="end" fill="#000" font-family="Liberation Sans, sans-serif" textLength="32.5" lengthAdjust="spacingAndGlyphs">09-02</text>
<text transform="translate(1023.8,271.3) rotate(-45)" font-size="12.5" text-anchor="end" fill="#000" font-family="Liberation Sans, sans-serif" textLength="32.5" lengthAdjust="spacingAndGlyphs">10-02</text>
<text transform="translate(1058.0,271.3) rotate(-45)" font-size="12.5" text-anchor="end" fill="#000" font-family="Liberation Sans, sans-serif" textLength="32.5" lengthAdjust="spacingAndGlyphs">11-02</text>
<text transform="translate(1092.2,271.3) rotate(-45)" font-size="12.5" text-anchor="end" fill="#000" font-family="Liberation Sans, sans-serif" textLength="32.5" lengthAdjust="spacingAndGlyphs">12-02</text>
<line x1="707.1" y1="323.4" x2="733.5" y2="323.4" stroke="#376092" stroke-width="2.9" stroke-linecap="round"/>
<text x="738.0" y="328.09999999999997" font-size="13" text-anchor="start" fill="#000" font-family="Liberation Sans, Noto Sans CJK SC, sans-serif" textLength="42.3" lengthAdjust="spacingAndGlyphs" >2013年</text>
<line x1="783.9000000000001" y1="323.4" x2="810.3000000000001" y2="323.4" stroke="#77933c" stroke-width="2.9" stroke-linecap="round"/>
<text x="814.8000000000001" y="328.09999999999997" font-size="13" text-anchor="start" fill="#000" font-family="Liberation Sans, Noto Sans CJK SC, sans-serif" textLength="42.3" lengthAdjust="spacingAndGlyphs" >2014年</text>
<line x1="861.5" y1="323.4" x2="887.9" y2="323.4" stroke="#31859c" stroke-width="2.9" stroke-linecap="round"/>
<text x="892.4" y="328.09999999999997" font-size="13" text-anchor="start" fill="#000" font-family="Liberation Sans, Noto Sans CJK SC, sans-serif" textLength="42.3" lengthAdjust="spacingAndGlyphs" >2015年</text>
<line x1="938.5" y1="323.4" x2="964.9" y2="323.4" stroke="#d99694" stroke-width="2.9" stroke-linecap="round"/>
<text x="969.4" y="328.09999999999997" font-size="13" text-anchor="start" fill="#000" font-family="Liberation Sans, Noto Sans CJK SC, sans-serif" textLength="42.3" lengthAdjust="spacingAndGlyphs" >2016年</text>
<line x1="1015.3000000000001" y1="323.4" x2="1041.7" y2="323.4" stroke="#b3a2c7" stroke-width="2.9" stroke-linecap="round"/>
<text x="1046.2" y="328.09999999999997" font-size="13" text-anchor="start" fill="#000" font-family="Liberation Sans, Noto Sans CJK SC, sans-serif" textLength="42.3" lengthAdjust="spacingAndGlyphs" >2017年</text>
<line x1="707.1" y1="353.1" x2="733.5" y2="353.1" stroke="#e46c0a" stroke-width="2.9" stroke-linecap="round"/>
<text x="738.0" y="357.8" font-size="13" text-anchor="start" fill="#000" font-family="Liberation Sans, Noto Sans CJK SC, sans-serif" textLength="42.3" lengthAdjust="spacingAndGlyphs" >2018年</text>
<line x1="783.9000000000001" y1="353.1" x2="810.3000000000001" y2="353.1" stroke="#a6b9da" stroke-width="2.9" stroke-linecap="round"/>
<text x="814.8000000000001" y="357.8" font-size="13" text-anchor="start" fill="#000" font-family="Liberation Sans, Noto Sans CJK SC, sans-serif" textLength="42.3" lengthAdjust="spacingAndGlyphs" >2019年</text>
<line x1="861.5" y1="353.1" x2="887.9" y2="353.1" stroke="#953735" stroke-width="2.9" stroke-linecap="round"/>
<text x="892.4" y="357.8" font-size="13" text-anchor="start" fill="#000" font-family="Liberation Sans, Noto Sans CJK SC, sans-serif" textLength="42.3" lengthAdjust="spacingAndGlyphs" >2020年</text>
<line x1="938.5" y1="353.1" x2="964.9" y2="353.1" stroke="#000000" stroke-width="2.9" stroke-linecap="round"/>
<text x="969.4" y="357.8" font-size="13" text-anchor="start" fill="#000" font-family="Liberation Sans, Noto Sans CJK SC, sans-serif" textLength="42.3" lengthAdjust="spacingAndGlyphs" >2021年</text>
<line x1="64.5" y1="592.4" x2="427.5" y2="592.4" stroke="#f1f1f1" stroke-width="1"/>
<line x1="64.5" y1="563.0" x2="427.5" y2="563.0" stroke="#f1f1f1" stroke-width="1"/>
<line x1="64.5" y1="533.6" x2="427.5" y2="533.6" stroke="#f1f1f1" stroke-width="1"/>
<line x1="64.5" y1="504.2" x2="427.5" y2="504.2" stroke="#f1f1f1" stroke-width="1"/>
<line x1="64.5" y1="474.8" x2="427.5" y2="474.8" stroke="#f1f1f1" stroke-width="1"/>
<line x1="64.5" y1="445.4" x2="427.5" y2="445.4" stroke="#f1f1f1" stroke-width="1"/>
<line x1="64.5" y1="416.0" x2="427.5" y2="416.0" stroke="#f1f1f1" stroke-width="1"/>
<path d="M64.5 407.5V621.8M427.5 407.5V621.8M59.5 621.8H431.5" stroke="#505050" stroke-width="1.1" fill="none"/>
<path d="M64.5 612.0h2M427.5 612.0h-2M64.5 602.2h2M427.5 602.2h-2M60.5 592.4H64.5M427.5 592.4h4M64.5 582.6h2M427.5 582.6h-2M64.5 572.8h2M427.5 572.8h-2M60.5 563.0H64.5M427.5 563.0h4M64.5 553.2h2M427.5 553.2h-2M64.5 543.4h2M427.5 543.4h-2M60.5 533.6H64.5M427.5 533.6h4M64.5 523.8h2M427.5 523.8h-2M64.5 514.0h2M427.5 514.0h-2M60.5 504.2H64.5M427.5 504.2h4M64.5 494.4h2M427.5 494.4h-2M64.5 484.6h2M427.5 484.6h-2M60.5 474.8H64.5M427.5 474.8h4M64.5 465.0h2M427.5 465.0h-2M64.5 455.2h2M427.5 455.2h-2M60.5 445.4H64.5M427.5 445.4h4M64.5 435.6h2M427.5 435.6h-2M64.5 425.8h2M427.5 425.8h-2M60.5 416.0H64.5M427.5 416.0h4M94.3 621.8v5.5M74.4 621.8v2.6M84.4 621.8v2.6M123.2 621.8v5.5M103.9 621.8v2.6M113.6 621.8v2.6M154.0 621.8v5.5M133.5 621.8v2.6M143.7 621.8v2.6M183.8 621.8v5.5M164.0 621.8v2.6M173.9 621.8v2.6M214.7 621.8v5.5M194.1 621.8v2.6M204.4 621.8v2.6M244.5 621.8v5.5M224.6 621.8v2.6M234.6 621.8v2.6M275.3 621.8v5.5M254.8 621.8v2.6M265.1 621.8v2.6M306.2 621.8v5.5M285.6 621.8v2.6M295.9 621.8v2.6M336.0 621.8v5.5M316.1 621.8v2.6M326.1 621.8v2.6M366.8 621.8v5.5M346.3 621.8v2.6M356.6 621.8v2.6M396.7 621.8v5.5M376.8 621.8v2.6M386.7 621.8v2.6M427.5 621.8v5.5M406.9 621.8v2.6M417.2 621.8v2.6" stroke="#505050" stroke-width="1" fill="none"/>
<polyline points="292.5,542.9 294.1,566.8 295.6,591 296.8,609.2 298.2,615.3 301.2,618.3 305.3,619.3 307.3,614.2 309.3,608.2 311.3,616.9 314.3,614.8 315.8,609.2 317.4,618.3 319.8,619.3 320,619.9 324.3,620.6 325.8,618.4 328.7,620.6 334.4,620.9 340.2,621.3 363.3,621.5 427.5,621.8" fill="none" stroke="#ff2a2a" stroke-width="1.12" stroke-linejoin="round" stroke-linecap="butt" />
<polyline points="64.5,621.6 83.9,621.3 105.5,621.5 117,621.2 127.2,621.3 156,621.6 197.1,621.5 200.7,620.6 203.6,616.3 205.1,588.9 205.7,486.6 206.4,449.1 207.4,439 208.1,428.1 209.3,443.3 210.3,469.3 211.5,507.5 211.9,492.4 212.9,418.8 213.6,418.8 214.2,495.7 214.6,472.2 216.1,477.9 218.2,489.5 219.4,498.1 220,520.3 221.4,550.6 222.4,566.8 224.4,559.7 226.9,545.6 228.5,558.7 230.5,570.8 232.9,566.8 234.5,582.9 238.6,599.1 240.6,609.2 242.6,612.8 248.7,613.6 254.7,615.3 260.8,617.7 268.9,618.9 272.9,615.3 277,616.3 283,617.3 289.1,617.7 295.2,618.3 299.2,617.7 300.6,574.8 302.2,544.5 303.6,570.8 305.3,595.1 307.7,584.9 309.3,570.8 310.9,591 313.3,605.2 317.4,607.2 320,615.6 324.3,613.4 327.2,617.7 331.5,618.4 337.3,617.7 343.1,620.6 348.9,619.2 353.9,617.7 357.5,620.6 363.3,618.4 368.3,618.4 371.9,619.9 379.2,618.4 383.5,619.2 387.8,618.9 393.6,619.2 399.4,619.9 406.6,620.6 413.8,620.9 421,620.9 427.5,621.3" fill="none" stroke="#00f000" stroke-width="1.12" stroke-linejoin="round" stroke-linecap="butt" />
<polyline points="64.5,621.5 195.7,621.2 196.4,620.6 198.6,614.8 200.7,596.1 202.9,577.3 203.2,570.8 205.9,538.5 207.3,558.7 210.3,584.9 212.3,579.9 213.9,591 217,582.9 218.8,600.7 221.4,587 224,593 225.5,578.9 227.1,546.6 228.5,574.8 230.5,560.7 232.5,576.9 234.9,539.5 237,558.7 239,584.9 240.6,567.8 242.6,582.9 245.1,575.9 246.7,591 248.7,615.3 250.7,611.2 252.3,595.1 253.7,576.9 255.2,609.2 256.8,605.2 259.2,613.2 262.8,610.2 265.9,607.2 268.9,615.3 272.9,617.3 276,609.2 279,603.1 282,606.2 284,604.1 286.1,607.2 288.5,596.1 290.1,609.2 293.1,603.1 296.2,611.2 299.2,610.2 301.2,605.2 303.6,609.2 306.3,604.1 308.3,603.1 310.3,584.9 311.7,563.7 313.3,587 314.9,603.1 317.4,607.2 320.4,609.2 322.9,609.8 325.8,609.1 328.7,607.6 330.8,613.4 333,603.3 335.2,610.5 338.8,612.7 343.1,614.8 345.3,609.8 346.7,614.8 348.9,602.6 351,607.6 353.2,610.5 355.4,605.5 357.5,609.8 359.7,606.2 361.8,599.7 364,604.7 366.2,601.8 368.3,607.6 370.5,603.3 372.7,606.2 375.6,605.5 377.7,608.3 379.9,609.1 382,601.8 384.2,600.4 385.7,608.3 387.8,607.6 390.7,606.2 392.2,599.7 392.9,609.1 394.3,598.2 395.8,607.6 397.2,614.8 400.1,609.8 403,611.2 405.1,610.5 407.3,607.6 408.7,612.7 410.9,609.1 413.8,611.9 416,609.1 418.1,610.5 420.3,615.6 421.7,611.9 423.2,594.6 425.3,591 426.8,591.7 427.5,604.7" fill="none" stroke="#3ea01a" stroke-width="1.12" stroke-linejoin="round" stroke-linecap="butt" />
<polyline points="64.5,611.9 66.5,612.7 69.4,610.2 72.3,611.9 74.5,614.1 76.6,609.8 79.5,614.5 81.7,612.7 83.9,609.1 88.2,611.9 92.5,614.5 96.1,616 97.6,610.5 100.5,616.3 104.1,614.5 107.7,611.9 110.1,602.6 111.6,609.1 113.4,613.4 116.3,609.8 118.5,607.6 119.6,612.7 121.4,604.7 123.5,608.3 125.7,606.2 127.2,607.6 128.6,611.2 131.5,611.9 135.1,608.3 138.7,612.7 141.3,618.4 142.7,611.9 144.5,618.4 146.6,609.1 148.1,607.6 150.2,612.7 153.1,611.2 154.6,617 156.7,614.8 159.6,617 161.8,611.2 164.7,614.1 167.6,617 170.4,615.6 174.8,614.8 177.7,615.6 182,618.9 185.6,617.7 189.9,616.3 193.5,615.6 197.1,616.3 199.3,611.9 201.5,609.8 204.4,611.9 206.5,611.2 209.4,615.6 212.3,618.4 215,614.8 219.4,611.2 222.4,613.6 226.5,613.2 230.5,616.9 234.5,616.3 238.6,617.7 242.6,616.3 246.7,613.2 250.7,612.2 254.3,610.2 257.8,612.8 260.8,614.2 264.8,615.3 268.9,616.3 272.9,613.2 277,614.8 281,614.2 285.1,616.3 289.1,615.7 293.1,616.3 297.2,613.2 301.2,612.2 305.3,613.6 309.3,611.2 313.3,609.2 317.4,611.2 321.4,613.6 324.3,615.6 328.7,614.1 334.4,616.3 340.2,616.6 344.5,615.6 346.7,603.3 348.9,607.6 351,599 354.2,588.1 356.8,596.1 359,603.3 361.1,606.2 363.3,591.7 364.7,598.2 367.6,601.1 369.8,603.3 371.2,610.5 372.7,604 375.6,604.7 378.4,607.6 379.9,609.8 383.5,607.6 387.1,608.3 390.7,611.2 393.6,609.1 395.8,607.6 397.9,615.6 400.1,611.2 403.7,609.8 405.9,614.1 408,609.8 410.9,611.9 413.8,614.1 416.7,609.8 419.6,609.1 421,612.7 423.9,611.9 426.1,611.2 427.5,614.1" fill="none" stroke="#8a8200" stroke-width="1.12" stroke-linejoin="round" stroke-linecap="butt" />
<polyline points="65.8,609.8 68,604.7 69.4,602.6 71.6,608.3 74.5,606.2 76.6,610.5 79.5,609.8 81.7,611.2 83.1,609.1 84.9,599.2 86.7,604.7 89.2,601.8 91.1,607.6 93.2,606.2 94.7,609.8 96.1,606.9 98.3,611.2 101.2,610.5 104.8,609.8 107.7,610.5 110.6,611.9 113.4,609.8 115.6,610.5 117.8,607.6 119.6,602.6 122.1,604.7 124,604 124.4,584.2 125,604.7 126.4,607.6 128.6,611.9 130.8,611.2 132.9,615.6 135.1,617.7 138.7,618.4 141.6,619.2 143.7,617 145.9,615.6 148.1,610.5 150.2,611.9 153.1,609.8 154.6,615.6 157.5,616.3 161.1,617 163.2,613.4 165.4,611.2 168.3,613.4 171.9,615.6 174.8,614.1 176.9,610.5 179.8,610.8 181.3,607.6 182.7,611.2 185.6,612.7 189.2,614.8 190.1,606.5" fill="none" stroke="#808080" stroke-width="1.12" stroke-linejoin="round" stroke-linecap="butt" />
<text x="60.4" y="624.8" font-size="8.5" text-anchor="end" fill="#0d0d0d" stroke="#0d0d0d" stroke-width="0.22" font-family="Liberation Sans, sans-serif" textLength="4.0" lengthAdjust="spacingAndGlyphs" >0</text>
<text x="432.8" y="624.8" font-size="8.5" text-anchor="start" fill="#0d0d0d" stroke="#0d0d0d" stroke-width="0.22" font-family="Liberation Sans, sans-serif" textLength="4.0" lengthAdjust="spacingAndGlyphs" >0</text>
<text x="60.4" y="595.4" font-size="8.5" text-anchor="end" fill="#0d0d0d" stroke="#0d0d0d" stroke-width="0.22" font-family="Liberation Sans, sans-serif" textLength="19.9" lengthAdjust="spacingAndGlyphs" >30000</text>
<text x="432.8" y="595.4" font-size="8.5" text-anchor="start" fill="#0d0d0d" stroke="#0d0d0d" stroke-width="0.22" font-family="Liberation Sans, sans-serif" textLength="19.9" lengthAdjust="spacingAndGlyphs" >30000</text>
<text x="60.4" y="566.0" font-size="8.5" text-anchor="end" fill="#0d0d0d" stroke="#0d0d0d" stroke-width="0.22" font-family="Liberation Sans, sans-serif" textLength="19.9" lengthAdjust="spacingAndGlyphs" >60000</text>
<text x="432.8" y="566.0" font-size="8.5" text-anchor="start" fill="#0d0d0d" stroke="#0d0d0d" stroke-width="0.22" font-family="Liberation Sans, sans-serif" textLength="19.9" lengthAdjust="spacingAndGlyphs" >60000</text>
<text x="60.4" y="536.6" font-size="8.5" text-anchor="end" fill="#0d0d0d" stroke="#0d0d0d" stroke-width="0.22" font-family="Liberation Sans, sans-serif" textLength="19.9" lengthAdjust="spacingAndGlyphs" >90000</text>
<text x="432.8" y="536.6" font-size="8.5" text-anchor="start" fill="#0d0d0d" stroke="#0d0d0d" stroke-width="0.22" font-family="Liberation Sans, sans-serif" textLength="19.9" lengthAdjust="spacingAndGlyphs" >90000</text>
<text x="60.4" y="507.2" font-size="8.5" text-anchor="end" fill="#0d0d0d" stroke="#0d0d0d" stroke-width="0.22" font-family="Liberation Sans, sans-serif" textLength="23.8" lengthAdjust="spacingAndGlyphs" >120000</text>
<text x="432.8" y="507.2" font-size="8.5" text-anchor="start" fill="#0d0d0d" stroke="#0d0d0d" stroke-width="0.22" font-family="Liberation Sans, sans-serif" textLength="23.8" lengthAdjust="spacingAndGlyphs" >120000</text>
<text x="60.4" y="477.8" font-size="8.5" text-anchor="end" fill="#0d0d0d" stroke="#0d0d0d" stroke-width="0.22" font-family="Liberation Sans, sans-serif" textLength="23.8" lengthAdjust="spacingAndGlyphs" >150000</text>
<text x="432.8" y="477.8" font-size="8.5" text-anchor="start" fill="#0d0d0d" stroke="#0d0d0d" stroke-width="0.22" font-family="Liberation Sans, sans-serif" textLength="23.8" lengthAdjust="spacingAndGlyphs" >150000</text>
<text x="60.4" y="448.4" font-size="8.5" text-anchor="end" fill="#0d0d0d" stroke="#0d0d0d" stroke-width="0.22" font-family="Liberation Sans, sans-serif" textLength="23.8" lengthAdjust="spacingAndGlyphs" >180000</text>
<text x="432.8" y="448.4" font-size="8.5" text-anchor="start" fill="#0d0d0d" stroke="#0d0d0d" stroke-width="0.22" font-family="Liberation Sans, sans-serif" textLength="23.8" lengthAdjust="spacingAndGlyphs" >180000</text>
<text x="60.4" y="419.0" font-size="8.5" text-anchor="end" fill="#0d0d0d" stroke="#0d0d0d" stroke-width="0.22" font-family="Liberation Sans, sans-serif" textLength="23.8" lengthAdjust="spacingAndGlyphs" >210000</text>
<text x="432.8" y="419.0" font-size="8.5" text-anchor="start" fill="#0d0d0d" stroke="#0d0d0d" stroke-width="0.22" font-family="Liberation Sans, sans-serif" textLength="23.8" lengthAdjust="spacingAndGlyphs" >210000</text>
<text x="94.3" y="635" font-size="8.5" text-anchor="middle" fill="#0d0d0d" stroke="#0d0d0d" stroke-width="0.22" font-family="Liberation Sans, sans-serif" textLength="15.5" lengthAdjust="spacingAndGlyphs" >01.31</text>
<text x="123.2" y="635" font-size="8.5" text-anchor="middle" fill="#0d0d0d" stroke="#0d0d0d" stroke-width="0.22" font-family="Liberation Sans, sans-serif" textLength="15.5" lengthAdjust="spacingAndGlyphs" >02.29</text>
<text x="154.0" y="635" font-size="8.5" text-anchor="middle" fill="#0d0d0d" stroke="#0d0d0d" stroke-width="0.22" font-family="Liberation Sans, sans-serif" textLength="15.5" lengthAdjust="spacingAndGlyphs" >03.31</text>
<text x="183.8" y="635" font-size="8.5" text-anchor="middle" fill="#0d0d0d" stroke="#0d0d0d" stroke-width="0.22" font-family="Liberation Sans, sans-serif" textLength="15.5" lengthAdjust="spacingAndGlyphs" >04.30</text>
<text x="214.7" y="635" font-size="8.5" text-anchor="middle" fill="#0d0d0d" stroke="#0d0d0d" stroke-width="0.22" font-family="Liberation Sans, sans-serif" textLength="15.5" lengthAdjust="spacingAndGlyphs" >05.31</text>
<text x="244.5" y="635" font-size="8.5" text-anchor="middle" fill="#0d0d0d" stroke="#0d0d0d" stroke-width="0.22" font-family="Liberation Sans, sans-serif" textLength="15.5" lengthAdjust="spacingAndGlyphs" >06.30</text>
<text x="275.3" y="635" font-size="8.5" text-anchor="middle" fill="#0d0d0d" stroke="#0d0d0d" stroke-width="0.22" font-family="Liberation Sans, sans-serif" textLength="15.5" lengthAdjust="spacingAndGlyphs" >07.31</text>
<text x="306.2" y="635" font-size="8.5" text-anchor="middle" fill="#0d0d0d" stroke="#0d0d0d" stroke-width="0.22" font-family="Liberation Sans, sans-serif" textLength="15.5" lengthAdjust="spacingAndGlyphs" >08.31</text>
<text x="336.0" y="635" font-size="8.5" text-anchor="middle" fill="#0d0d0d" stroke="#0d0d0d" stroke-width="0.22" font-family="Liberation Sans, sans-serif" textLength="15.5" lengthAdjust="spacingAndGlyphs" >09.30</text>
<text x="366.8" y="635" font-size="8.5" text-anchor="middle" fill="#0d0d0d" stroke="#0d0d0d" stroke-width="0.22" font-family="Liberation Sans, sans-serif" textLength="15.5" lengthAdjust="spacingAndGlyphs" >10.31</text>
<text x="396.7" y="635" font-size="8.5" text-anchor="middle" fill="#0d0d0d" stroke="#0d0d0d" stroke-width="0.22" font-family="Liberation Sans, sans-serif" textLength="15.5" lengthAdjust="spacingAndGlyphs" >11.30</text>
<text x="427.5" y="635" font-size="8.5" text-anchor="middle" fill="#0d0d0d" stroke="#0d0d0d" stroke-width="0.22" font-family="Liberation Sans, sans-serif" textLength="15.5" lengthAdjust="spacingAndGlyphs" >12.31</text>
<text x="65.3" y="410.8" font-size="6.5" text-anchor="start" fill="#0d0d0d" stroke="#0d0d0d" stroke-width="0.22" font-family="Liberation Sans, Noto Sans CJK SC, sans-serif" textLength="8.6" lengthAdjust="spacingAndGlyphs" >(手)</text>
<text x="417" y="410.8" font-size="6.5" text-anchor="start" fill="#0d0d0d" stroke="#0d0d0d" stroke-width="0.22" font-family="Liberation Sans, Noto Sans CJK SC, sans-serif" textLength="8.6" lengthAdjust="spacingAndGlyphs" >(手)</text>
<line x1="155.3" y1="648.6" x2="169.3" y2="648.6" stroke="#ff2a2a" stroke-width="1.2"/>
<text x="171.5" y="652" font-size="9" text-anchor="start" fill="#0d0d0d" stroke="#0d0d0d" stroke-width="0.22" font-family="Liberation Sans, sans-serif" textLength="15.4" lengthAdjust="spacingAndGlyphs" >2017</text>
<line x1="193.1" y1="648.6" x2="207.1" y2="648.6" stroke="#00f000" stroke-width="1.2"/>
<text x="209.2" y="652" font-size="9" text-anchor="start" fill="#0d0d0d" stroke="#0d0d0d" stroke-width="0.22" font-family="Liberation Sans, sans-serif" textLength="15.4" lengthAdjust="spacingAndGlyphs" >2018</text>
<line x1="230.8" y1="648.6" x2="244.8" y2="648.6" stroke="#3ea01a" stroke-width="1.2"/>
<text x="247.0" y="652" font-size="9" text-anchor="start" fill="#0d0d0d" stroke="#0d0d0d" stroke-width="0.22" font-family="Liberation Sans, sans-serif" textLength="15.4" lengthAdjust="spacingAndGlyphs" >2019</text>
<line x1="268.6" y1="648.6" x2="282.6" y2="648.6" stroke="#8a8200" stroke-width="1.2"/>
<text x="284.8" y="652" font-size="9" text-anchor="start" fill="#0d0d0d" stroke="#0d0d0d" stroke-width="0.22" font-family="Liberation Sans, sans-serif" textLength="15.4" lengthAdjust="spacingAndGlyphs" >2020</text>
<line x1="306.3" y1="648.6" x2="320.3" y2="648.6" stroke="#808080" stroke-width="1.2"/>
<text x="322.5" y="652" font-size="9" text-anchor="start" fill="#0d0d0d" stroke="#0d0d0d" stroke-width="0.22" font-family="Liberation Sans, sans-serif" textLength="15.4" lengthAdjust="spacingAndGlyphs" >2021</text>
<line x1="711.5" y1="623.5" x2="1103.3" y2="623.5" stroke="#f1f1f1" stroke-width="1"/>
<line x1="711.5" y1="594.2" x2="1103.3" y2="594.2" stroke="#f1f1f1" stroke-width="1"/>
<line x1="711.5" y1="564.8" x2="1103.3" y2="564.8" stroke="#f1f1f1" stroke-width="1"/>
<line x1="711.5" y1="535.5" x2="1103.3" y2="535.5" stroke="#f1f1f1" stroke-width="1"/>
<line x1="711.5" y1="506.1" x2="1103.3" y2="506.1" stroke="#f1f1f1" stroke-width="1"/>
<line x1="711.5" y1="476.8" x2="1103.3" y2="476.8" stroke="#f1f1f1" stroke-width="1"/>
<line x1="711.5" y1="447.4" x2="1103.3" y2="447.4" stroke="#f1f1f1" stroke-width="1"/>
<line x1="711.5" y1="418.1" x2="1103.3" y2="418.1" stroke="#f1f1f1" stroke-width="1"/>
<path d="M711.5 405.8V652.9M1103.3 405.8V652.9M706.5 652.9H1107.3" stroke="#505050" stroke-width="1.1" fill="none"/>
<path d="M711.5 643.1h2M1103.3 643.1h-2M711.5 633.3h2M1103.3 633.3h-2M707.5 623.5H711.5M1103.3 623.5h4M711.5 613.8h2M1103.3 613.8h-2M711.5 604.0h2M1103.3 604.0h-2M707.5 594.2H711.5M1103.3 594.2h4M711.5 584.4h2M1103.3 584.4h-2M711.5 574.6h2M1103.3 574.6h-2M707.5 564.8H711.5M1103.3 564.8h4M711.5 555.1h2M1103.3 555.1h-2M711.5 545.3h2M1103.3 545.3h-2M707.5 535.5H711.5M1103.3 535.5h4M711.5 525.7h2M1103.3 525.7h-2M711.5 515.9h2M1103.3 515.9h-2M707.5 506.1H711.5M1103.3 506.1h4M711.5 496.4h2M1103.3 496.4h-2M711.5 486.6h2M1103.3 486.6h-2M707.5 476.8H711.5M1103.3 476.8h4M711.5 467.0h2M1103.3 467.0h-2M711.5 457.2h2M1103.3 457.2h-2M707.5 447.4H711.5M1103.3 447.4h4M711.5 437.7h2M1103.3 437.7h-2M711.5 427.9h2M1103.3 427.9h-2M707.5 418.1H711.5M1103.3 418.1h4M711.5 408.3h2M1103.3 408.3h-2M743.7 652.9v5.5M722.2 652.9v2.6M733.0 652.9v2.6M774.8 652.9v5.5M754.1 652.9v2.6M764.5 652.9v2.6M808.1 652.9v5.5M785.9 652.9v2.6M797.0 652.9v2.6M840.3 652.9v5.5M818.8 652.9v2.6M829.6 652.9v2.6M873.6 652.9v5.5M851.4 652.9v2.6M862.5 652.9v2.6M905.8 652.9v5.5M884.3 652.9v2.6M895.1 652.9v2.6M939.1 652.9v5.5M916.9 652.9v2.6M928.0 652.9v2.6M972.3 652.9v5.5M950.2 652.9v2.6M961.3 652.9v2.6M1004.5 652.9v5.5M983.1 652.9v2.6M993.8 652.9v2.6M1037.8 652.9v5.5M1015.6 652.9v2.6M1026.7 652.9v2.6M1070.0 652.9v5.5M1048.6 652.9v2.6M1059.3 652.9v2.6M1103.3 652.9v5.5M1081.1 652.9v2.6M1092.2 652.9v2.6" stroke="#505050" stroke-width="1" fill="none"/>
<polyline points="959.8,585.1 962.1,590.7 965,604.3 969.5,608.9 972.9,613.4 975.2,604.3 977.9,607.7 979.8,615.7 983.2,620.2 986.6,624.8 991.1,629.3 994.5,636.1 997.9,637.2 1001.3,636.5 1003.6,637.9 1016,638.4 1022.8,640.6 1029.6,640.2 1038.7,642.9 1047.8,644 1056.8,645.8 1065.9,647.4 1069.3,649.2 1070,645.2 1071.6,647.9 1079.5,650.1 1088.6,650.8 1095.4,650.8 1099.9,650.8 1101,652" fill="none" stroke="#ff2a2a" stroke-width="1.12" stroke-linejoin="round" stroke-linecap="butt" />
<polyline points="711.5,652.7 717.1,651.3 725.2,651.1 731.3,652.3 745.4,652.3 757.5,651.9 765.6,651.3 777.7,650.7 785.8,651.3 795.9,651.9 810.1,652.7 826.2,652.7 846.4,652.7 858.5,652.7 860.6,648.2 862.2,642.2 863.2,626 864.2,595.7 864.6,565.4 865.2,542.2 865.7,544.3 867.4,538.5 868.5,536.2 869.7,524.7 870.8,511.3 872,538.5 872.3,562.4 873.1,551.3 876.7,549.2 878.1,534.1 878.7,553.3 879.7,573.5 881.8,580.6 883.8,583.6 885.7,585.1 886.8,574.9 889.1,591.9 892.5,602.1 895.9,612.3 899.3,614.5 902.7,615.7 907.2,616.8 910.6,620.2 915.1,620.2 918.5,623.6 921.9,622.9 924.2,628.2 929.9,628.2 932.6,631.1 936.7,629.3 938.5,624.8 940.1,629.3 941.7,624.8 944.6,628.2 946.9,633.8 950.3,636.1 954.8,637.2 958.2,640.2 961.6,639 964.3,638.4 967.3,617.9 969.5,610 971.8,625.9 972.9,612.3 975.2,594.1 977.5,598.7 979.8,611.1 982,615.7 983.8,612.3 985.4,620.2 988.8,624.8 992.2,635 995.6,637.2 999,637.2 1002.4,646.3 1007,647 1013.8,646.3 1017.2,644 1022.8,642.9 1027.4,643.3 1031.9,644 1036.4,641.1 1043.2,642.9 1050,643.3 1051.6,637.2 1055.7,638.4 1060.2,641.8 1065.9,641.1 1070.4,642.4 1075,641.8 1079.5,644 1084,645.2 1088.6,648.6 1095.4,650.8 1099.9,652.4" fill="none" stroke="#00f000" stroke-width="1.12" stroke-linejoin="round" stroke-linecap="butt" />
<polyline points="711.5,652.3 715.1,650.7 721.2,649.8 729.2,649.4 737.3,650.3 745.4,650.7 755.5,649.6 765.6,649.8 771.7,648.6 778.7,648.2 785.8,649.8 795.9,651.3 806,651.9 818.1,652.3 824.2,651.3 834.3,651.5 846.4,651.5 854.1,651.3 855.5,638.1 856.9,605.8 858.5,575.5 860.2,549.2 861.6,529.3 862.7,506.2 863.9,503.9 864.4,520 867.4,515.4 869.7,490 871.3,473.9 872.7,479.6 874.3,469.3 875.9,462.3 877.3,470.4 880.1,468.8 883.5,468.1 884.7,480.8 887,481.9 890.4,492.3 892.1,494.6 893.4,492.3 894.6,510.8 895.8,528.1 898.5,518.9 900.4,529.3 902.7,538 906.6,538 908.1,537 910.2,538 914.4,529.3 916.5,532.8 918.6,536 921.7,529.7 923.8,521.3 928,517.1 931.1,510.9 934.3,507.7 936.4,506.7 937.8,510.9 938.5,536.4 939.5,517.1 941.6,508.8 943.7,503.5 945.2,519.2 946.4,496.2 948.9,499.4 951,498.3 952.7,505.6 954.8,502.5 955.8,487.4 959,487.8 959.8,505.6 962.5,498.3 964.2,486.8 966.7,484.7 968.2,493.1 969.8,486.8 974,487.4 977.2,491 979.3,493.1 981.3,496.6 983.4,483.7 984.9,474.9 987.6,479.5 990.8,482.6 992.4,487.8 994.9,469 996.6,455 998.1,479.5 999.5,483.7 1000.8,495.8 1003.3,494.1 1007.5,489.9 1011.7,484.7 1013.3,482.6 1014.8,466.9 1016.9,460.7 1019.6,453.3 1021.1,435.6 1022.1,417.2 1023.6,422 1025.3,419.9 1026.9,417.8 1028,432.4 1029.5,436.6 1030.9,449.2 1033.6,447.1 1034.7,450.2 1036.4,473.2 1037.4,463.8 1038.9,470.1 1042,461.7 1043,476.3 1045.1,486.8 1046.8,497.3 1049.3,498.3 1051.4,504.6 1052.5,502.5 1053.9,509.8 1056,507.7 1058.1,515 1059.4,507.7 1060.2,515 1060.8,500.4 1062.9,504.6 1065,510.9 1067.1,522.4 1068.1,544.3 1068.6,581.7 1070,602.1 1072.2,606.6 1073.2,590.7 1074.5,565.8 1076.1,549.9 1078.4,543.1 1080.6,534.1 1084,528.4 1086.8,529.5 1088.6,535.2 1093.1,539.1 1097.6,541.3 1101,535.2 1103.3,532.9" fill="none" stroke="#3ea01a" stroke-width="1.12" stroke-linejoin="round" stroke-linecap="butt" />
<polyline points="711.5,593.7 714.1,590.1 716.1,590.7 717.1,589.2 719.1,592.1 723.2,589.6 726.2,593.7 728.2,596.7 731.3,598.7 733.3,606.8 734.3,608.8 739.3,607.4 745.4,605.8 747.4,598.7 750.5,594.7 754.5,590.1 757.9,588 760.6,580.6 762.6,583.6 765.6,584.6 769.6,583.6 772.7,584.6 775.7,581.2 777.7,583.6 779.7,587.6 785.8,588.6 788.8,590.7 794.9,592.7 797.9,591.3 799.9,595.7 802,598.7 804,602.8 806,605.8 806.6,626 807.6,618.9 810.1,619.9 813.1,614.9 815.1,605.8 818.1,604.8 821.2,602.8 824.2,599.7 828.2,596.7 831.3,596.1 834.3,597.7 837.3,600.2 839.3,603.4 845.4,602.8 847.4,598.7 850.5,597.3 854.5,597.7 856.5,595.7 859.5,591.7 861.6,587.2 863.6,591.7 866.6,592.1 870.7,592.7 874.7,590.7 877.7,586 880,585.8 883.4,586.2 886.8,590.7 893.6,593 902.7,593 907.2,589.6 911.7,590.3 915.1,594.1 918.5,593 923.1,595.7 927.6,594.1 932.1,592.3 935.5,593 937.8,602.1 939.4,612.3 941.7,619.1 943.5,608.9 945.7,597.5 949.1,594.1 952.5,593.5 957.1,592.6 960.5,588.5 965,584.4 969.5,581.7 972.9,580.5 976.4,582.1 979.8,581.7 982,577.8 985.4,581.7 988.8,585.8 993.4,585.1 996.8,584.4 1000.2,586.7 1007,588.5 1013.8,590.3 1017.2,583.9 1020.6,571.5 1023.3,563.5 1025.1,559 1027.4,569.2 1031.9,571.5 1035.3,573.7 1038.7,573.3 1042.1,571.5 1044.4,575.3 1047.8,574.9 1051.2,577.1 1054.6,578.3 1058,583.5 1061.4,585.1 1063.6,581.7 1065.9,586.2 1068.2,597.5 1070.4,603.2 1072.7,597.5 1075,590.7 1077.2,588.5 1079.5,585.1 1082.9,588.5 1086.3,590.1 1090.8,587.3 1094.2,591.9 1098.8,592.6 1103.3,592.3" fill="none" stroke="#8a8200" stroke-width="1.12" stroke-linejoin="round" stroke-linecap="butt" />
<polyline points="711.5,584.6 714.1,581.6 717.1,579.1 720.2,580.6 723.2,582.6 724.2,579.9 725.2,585.6 728.2,589.6 732.3,592.7 735.3,590.7 736.7,586.6 738.3,589.6 742.4,591.7 745.4,596.7 748.4,595.7 751.9,600.8 755.5,600.2 759.5,597.7 762.2,595.7 763.6,590.7 766.6,588.6 768.6,592.7 771.7,594.7 774.7,594.7 775.7,591.7 777.3,598.7 779.7,605.8 782.8,607.8 784.8,612.3 787.8,612.9 790.9,613.9 793.9,612.9 796.9,613.5 799.9,612.3 803,612.9 806,616.9 807,622 808,628 809,629 812.1,627 814.1,624 816.1,615.9 819.1,607.8 822.2,601.8 825.2,596.7 828.2,596.7 831.3,594.7 834.3,593.7 837.3,590.7 838.7,594.7 844.4,594.7 846.4,592.7" fill="none" stroke="#808080" stroke-width="1.12" stroke-linejoin="round" stroke-linecap="butt" />
<text x="706.6" y="656.5" font-size="10.3" text-anchor="end" fill="#0d0d0d" stroke="#0d0d0d" stroke-width="0.22" font-family="Liberation Sans, sans-serif" textLength="4.2" lengthAdjust="spacingAndGlyphs" >0</text>
<text x="1109.6" y="656.5" font-size="10.3" text-anchor="start" fill="#0d0d0d" stroke="#0d0d0d" stroke-width="0.22" font-family="Liberation Sans, sans-serif" textLength="4.2" lengthAdjust="spacingAndGlyphs" >0</text>
<text x="706.6" y="627.1" font-size="10.3" text-anchor="end" fill="#0d0d0d" stroke="#0d0d0d" stroke-width="0.22" font-family="Liberation Sans, sans-serif" textLength="16.8" lengthAdjust="spacingAndGlyphs" >4000</text>
<text x="1109.6" y="627.1" font-size="10.3" text-anchor="start" fill="#0d0d0d" stroke="#0d0d0d" stroke-width="0.22" font-family="Liberation Sans, sans-serif" textLength="16.8" lengthAdjust="spacingAndGlyphs" >4000</text>
<text x="706.6" y="597.8" font-size="10.3" text-anchor="end" fill="#0d0d0d" stroke="#0d0d0d" stroke-width="0.22" font-family="Liberation Sans, sans-serif" textLength="16.8" lengthAdjust="spacingAndGlyphs" >8000</text>
<text x="1109.6" y="597.8" font-size="10.3" text-anchor="start" fill="#0d0d0d" stroke="#0d0d0d" stroke-width="0.22" font-family="Liberation Sans, sans-serif" textLength="16.8" lengthAdjust="spacingAndGlyphs" >8000</text>
<text x="706.6" y="568.4" font-size="10.3" text-anchor="end" fill="#0d0d0d" stroke="#0d0d0d" stroke-width="0.22" font-family="Liberation Sans, sans-serif" textLength="21.0" lengthAdjust="spacingAndGlyphs" >12000</text>
<text x="1109.6" y="568.4" font-size="10.3" text-anchor="start" fill="#0d0d0d" stroke="#0d0d0d" stroke-width="0.22" font-family="Liberation Sans, sans-serif" textLength="21.0" lengthAdjust="spacingAndGlyphs" >12000</text>
<text x="706.6" y="539.1" font-size="10.3" text-anchor="end" fill="#0d0d0d" stroke="#0d0d0d" stroke-width="0.22" font-family="Liberation Sans, sans-serif" textLength="21.0" lengthAdjust="spacingAndGlyphs" >16000</text>
<text x="1109.6" y="539.1" font-size="10.3" text-anchor="start" fill="#0d0d0d" stroke="#0d0d0d" stroke-width="0.22" font-family="Liberation Sans, sans-serif" textLength="21.0" lengthAdjust="spacingAndGlyphs" >16000</text>
<text x="706.6" y="509.8" font-size="10.3" text-anchor="end" fill="#0d0d0d" stroke="#0d0d0d" stroke-width="0.22" font-family="Liberation Sans, sans-serif" textLength="21.0" lengthAdjust="spacingAndGlyphs" >20000</text>
<text x="1109.6" y="509.8" font-size="10.3" text-anchor="start" fill="#0d0d0d" stroke="#0d0d0d" stroke-width="0.22" font-family="Liberation Sans, sans-serif" textLength="21.0" lengthAdjust="spacingAndGlyphs" >20000</text>
<text x="706.6" y="480.4" font-size="10.3" text-anchor="end" fill="#0d0d0d" stroke="#0d0d0d" stroke-width="0.22" font-family="Liberation Sans, sans-serif" textLength="21.0" lengthAdjust="spacingAndGlyphs" >24000</text>
<text x="1109.6" y="480.4" font-size="10.3" text-anchor="start" fill="#0d0d0d" stroke="#0d0d0d" stroke-width="0.22" font-family="Liberation Sans, sans-serif" textLength="21.0" lengthAdjust="spacingAndGlyphs" >24000</text>
<text x="706.6" y="451.0" font-size="10.3" text-anchor="end" fill="#0d0d0d" stroke="#0d0d0d" stroke-width="0.22" font-family="Liberation Sans, sans-serif" textLength="21.0" lengthAdjust="spacingAndGlyphs" >28000</text>
<text x="1109.6" y="451.0" font-size="10.3" text-anchor="start" fill="#0d0d0d" stroke="#0d0d0d" stroke-width="0.22" font-family="Liberation Sans, sans-serif" textLength="21.0" lengthAdjust="spacingAndGlyphs" >28000</text>
<text x="706.6" y="421.7" font-size="10.3" text-anchor="end" fill="#0d0d0d" stroke="#0d0d0d" stroke-width="0.22" font-family="Liberation Sans, sans-serif" textLength="21.0" lengthAdjust="spacingAndGlyphs" >32000</text>
<text x="1109.6" y="421.7" font-size="10.3" text-anchor="start" fill="#0d0d0d" stroke="#0d0d0d" stroke-width="0.22" font-family="Liberation Sans, sans-serif" textLength="21.0" lengthAdjust="spacingAndGlyphs" >32000</text>
<text x="743.7" y="669" font-size="9" text-anchor="middle" fill="#0d0d0d" stroke="#0d0d0d" stroke-width="0.22" font-family="Liberation Sans, sans-serif" textLength="16.5" lengthAdjust="spacingAndGlyphs" >01.31</text>
<text x="774.8" y="669" font-size="9" text-anchor="middle" fill="#0d0d0d" stroke="#0d0d0d" stroke-width="0.22" font-family="Liberation Sans, sans-serif" textLength="16.5" lengthAdjust="spacingAndGlyphs" >02.29</text>
<text x="808.1" y="669" font-size="9" text-anchor="middle" fill="#0d0d0d" stroke="#0d0d0d" stroke-width="0.22" font-family="Liberation Sans, sans-serif" textLength="16.5" lengthAdjust="spacingAndGlyphs" >03.31</text>
<text x="840.3" y="669" font-size="9" text-anchor="middle" fill="#0d0d0d" stroke="#0d0d0d" stroke-width="0.22" font-family="Liberation Sans, sans-serif" textLength="16.5" lengthAdjust="spacingAndGlyphs" >04.30</text>
<text x="873.6" y="669" font-size="9" text-anchor="middle" fill="#0d0d0d" stroke="#0d0d0d" stroke-width="0.22" font-family="Liberation Sans, sans-serif" textLength="16.5" lengthAdjust="spacingAndGlyphs" >05.31</text>
<text x="905.8" y="669" font-size="9" text-anchor="middle" fill="#0d0d0d" stroke="#0d0d0d" stroke-width="0.22" font-family="Liberation Sans, sans-serif" textLength="16.5" lengthAdjust="spacingAndGlyphs" >06.30</text>
<text x="939.1" y="669" font-size="9" text-anchor="middle" fill="#0d0d0d" stroke="#0d0d0d" stroke-width="0.22" font-family="Liberation Sans, sans-serif" textLength="16.5" lengthAdjust="spacingAndGlyphs" >07.31</text>
<text x="972.3" y="669" font-size="9" text-anchor="middle" fill="#0d0d0d" stroke="#0d0d0d" stroke-width="0.22" font-family="Liberation Sans, sans-serif" textLength="16.5" lengthAdjust="spacingAndGlyphs" >08.31</text>
<text x="1004.5" y="669" font-size="9" text-anchor="middle" fill="#0d0d0d" stroke="#0d0d0d" stroke-width="0.22" font-family="Liberation Sans, sans-serif" textLength="16.5" lengthAdjust="spacingAndGlyphs" >09.30</text>
<text x="1037.8" y="669" font-size="9" text-anchor="middle" fill="#0d0d0d" stroke="#0d0d0d" stroke-width="0.22" font-family="Liberation Sans, sans-serif" textLength="16.5" lengthAdjust="spacingAndGlyphs" >10.31</text>
<text x="1070.0" y="669" font-size="9" text-anchor="middle" fill="#0d0d0d" stroke="#0d0d0d" stroke-width="0.22" font-family="Liberation Sans, sans-serif" textLength="16.5" lengthAdjust="spacingAndGlyphs" >11.30</text>
<text x="1103.3" y="669" font-size="9" text-anchor="middle" fill="#0d0d0d" stroke="#0d0d0d" stroke-width="0.22" font-family="Liberation Sans, sans-serif" textLength="16.5" lengthAdjust="spacingAndGlyphs" >12.31</text>
<text x="712.6" y="408.8" font-size="7.5" text-anchor="start" fill="#0d0d0d" stroke="#0d0d0d" stroke-width="0.22" font-family="Liberation Sans, Noto Sans CJK SC, sans-serif" textLength="9.2" lengthAdjust="spacingAndGlyphs" >(手)</text>
<text x="1092.6" y="408.8" font-size="7.5" text-anchor="start" fill="#0d0d0d" stroke="#0d0d0d" stroke-width="0.22" font-family="Liberation Sans, Noto Sans CJK SC, sans-serif" textLength="9.2" lengthAdjust="spacingAndGlyphs" >(手)</text>
<line x1="811.3" y1="684.3" x2="827.1" y2="684.3" stroke="#ff2a2a" stroke-width="1.3"/>
<text x="828.7" y="688" font-size="10" text-anchor="start" fill="#0d0d0d" stroke="#0d0d0d" stroke-width="0.22" font-family="Liberation Sans, sans-serif" textLength="17.4" lengthAdjust="spacingAndGlyphs" >2017</text>
<line x1="850.8" y1="684.3" x2="866.6" y2="684.3" stroke="#00f000" stroke-width="1.3"/>
<text x="868.2" y="688" font-size="10" text-anchor="start" fill="#0d0d0d" stroke="#0d0d0d" stroke-width="0.22" font-family="Liberation Sans, sans-serif" textLength="17.4" lengthAdjust="spacingAndGlyphs" >2018</text>
<line x1="890.4" y1="684.3" x2="906.2" y2="684.3" stroke="#3ea01a" stroke-width="1.3"/>
<text x="907.8" y="688" font-size="10" text-anchor="start" fill="#0d0d0d" stroke="#0d0d0d" stroke-width="0.22" font-family="Liberation Sans, sans-serif" textLength="17.4" lengthAdjust="spacingAndGlyphs" >2019</text>
<line x1="929.9" y1="684.3" x2="945.7" y2="684.3" stroke="#8a8200" stroke-width="1.3"/>
<text x="947.3" y="688" font-size="10" text-anchor="start" fill="#0d0d0d" stroke="#0d0d0d" stroke-width="0.22" font-family="Liberation Sans, sans-serif" textLength="17.4" lengthAdjust="spacingAndGlyphs" >2020</text>
<line x1="969.5" y1="684.3" x2="985.3" y2="684.3" stroke="#808080" stroke-width="1.3"/>
<text x="986.9" y="688" font-size="10" text-anchor="start" fill="#0d0d0d" stroke="#0d0d0d" stroke-width="0.22" font-family="Liberation Sans, sans-serif" textLength="17.4" lengthAdjust="spacingAndGlyphs" >2021</text>
<rect x="921.3" y="691.6" width="2.2" height="1.4" fill="#111"/>
<rect x="928" y="691.6" width="4.5" height="1.4" fill="#111"/>
<rect x="935" y="691.6" width="6.8" height="1.4" fill="#111"/>
<rect x="1107" y="692.2" width="9" height="0.8" fill="#666"/>
<rect x="1119" y="692.2" width="12" height="0.8" fill="#666"/>
<rect x="1134" y="692.2" width="4" height="0.8" fill="#666"/>
<rect x="1137" y="684.8" width="1" height="1.6" fill="#444"/>
<rect x="31.2" y="3" width="413.1" height="33.6" fill="#4b5563" stroke="#414b58" stroke-width="0.6"/>
<rect x="666" y="8.1" width="449.9000000000001" height="28.799999999999997" fill="#4b5563" stroke="#414b58" stroke-width="0.6"/>
<rect x="41.2" y="369" width="413.0" height="33.5" fill="#4b5563" stroke="#414b58" stroke-width="0.6"/>
<rect x="683.1" y="368.1" width="449.4" height="29.399999999999977" fill="#4b5563" stroke="#414b58" stroke-width="0.6"/>
<text x="138.4" y="30.8" font-size="24.8" font-weight="bold" fill="#fff" stroke="#fff" stroke-width="0.45" font-family="Liberation Sans, Noto Sans CJK SC, sans-serif">棉花成交量（手）</text>
<text x="792.6" y="32" font-size="24.8" fill="#fff" font-family="Liberation Sans, Noto Sans CJK SC, sans-serif">棉花持仓量（手）</text>
<text x="148.4" y="396.4" font-size="24.8" font-weight="bold" fill="#fff" stroke="#fff" stroke-width="0.45" font-family="Liberation Sans, Noto Sans CJK SC, sans-serif">棉纱成交量（手）</text>
<text x="809.8" y="392.4" font-size="24.8" fill="#fff" font-family="Liberation Sans, Noto Sans CJK SC, sans-serif">棉纱持仓量（手）</text>
</svg></body></html>
